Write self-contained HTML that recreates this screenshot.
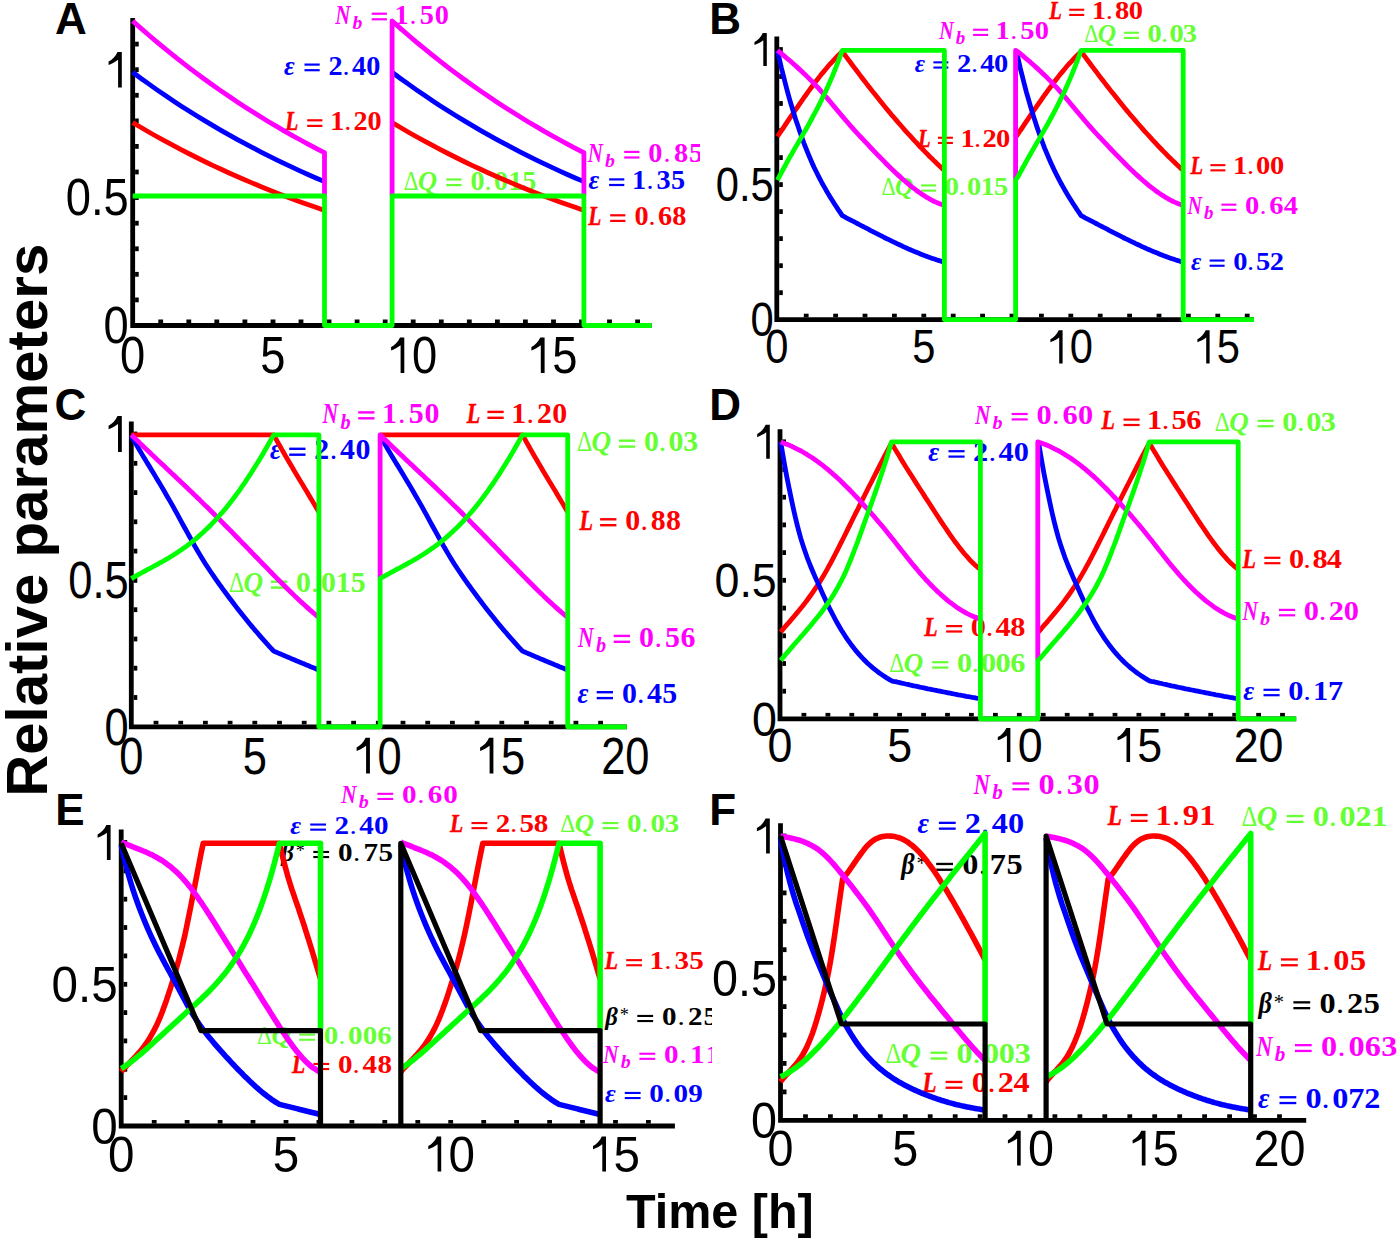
<!DOCTYPE html>
<html><head><meta charset="utf-8"><style>
html,body{margin:0;padding:0;background:#fff;}
svg{display:block;}

</style></head><body>
<svg width="1400" height="1241" viewBox="0 0 1400 1241">
<defs>
<clipPath id="clipA"><rect x="0" y="0" width="700" height="395"/></clipPath>
<clipPath id="clipE"><rect x="0" y="770" width="712" height="471"/></clipPath>
</defs>
<rect width="1400" height="1241" fill="#fff"/>
<g clip-path="url(#clipA)">
<g fill="#ff00ff"><text transform="translate(335.2,23.8) scale(0.755,1)" style="font-family:'Liberation Serif',serif;font-weight:bold;font-style:italic;font-size:27.7px">N</text><text transform="translate(352.4,28.9) scale(1.019,1)" style="font-family:'Liberation Serif',serif;font-weight:bold;font-style:italic;font-size:19.4px">b</text><rect x="371.7" y="12.6" width="15.2" height="2.2"/><rect x="371.7" y="18.2" width="15.2" height="2.2"/><text transform="translate(394.6,23.8) scale(1.020,1)" style="font-family:'Liberation Serif',serif;font-weight:bold;font-style:normal;font-size:27.7px">1</text><text transform="translate(409.6,23.8) scale(1.020,1)" style="font-family:'Liberation Serif',serif;font-weight:normal;font-style:normal;font-size:27.7px">.</text><text transform="translate(419.8,23.8) scale(1.020,1)" style="font-family:'Liberation Serif',serif;font-weight:bold;font-style:normal;font-size:27.7px">5</text><text transform="translate(434.7,23.8) scale(1.020,1)" style="font-family:'Liberation Serif',serif;font-weight:bold;font-style:normal;font-size:27.7px">0</text></g>
<g fill="#0000ff"><text transform="translate(284,74.6) scale(0.944,1)" style="font-family:'Liberation Serif',serif;font-weight:bold;font-style:italic;font-size:27.7px">ε</text><rect x="304.5" y="63.5" width="15.2" height="2.2"/><rect x="304.5" y="69.1" width="15.2" height="2.2"/><text transform="translate(328.5,74.6) scale(1.020,1)" style="font-family:'Liberation Serif',serif;font-weight:bold;font-style:normal;font-size:27.7px">2</text><text transform="translate(342.6,74.6) scale(1.020,1)" style="font-family:'Liberation Serif',serif;font-weight:normal;font-style:normal;font-size:27.7px">.</text><text transform="translate(352.1,74.6) scale(1.020,1)" style="font-family:'Liberation Serif',serif;font-weight:bold;font-style:normal;font-size:27.7px">4</text><text transform="translate(366.2,74.6) scale(1.020,1)" style="font-family:'Liberation Serif',serif;font-weight:bold;font-style:normal;font-size:27.7px">0</text></g>
<g fill="#ff0000"><text transform="translate(285.2,130.3) scale(0.772,1)" style="font-family:'Liberation Serif',serif;font-weight:bold;font-style:italic;font-size:27.7px" stroke="#ff0000" stroke-width="0.5">L</text><rect x="307.2" y="119.2" width="15.2" height="2.2"/><rect x="307.2" y="124.8" width="15.2" height="2.2"/><text transform="translate(330.2,130.3) scale(1.020,1)" style="font-family:'Liberation Serif',serif;font-weight:bold;font-style:normal;font-size:27.7px">1</text><text transform="translate(344.2,130.3) scale(1.020,1)" style="font-family:'Liberation Serif',serif;font-weight:normal;font-style:normal;font-size:27.7px">.</text><text transform="translate(353.5,130.3) scale(1.020,1)" style="font-family:'Liberation Serif',serif;font-weight:bold;font-style:normal;font-size:27.7px">2</text><text transform="translate(367.5,130.3) scale(1.020,1)" style="font-family:'Liberation Serif',serif;font-weight:bold;font-style:normal;font-size:27.7px">0</text></g>
<g fill="#ff00ff"><text transform="translate(587.7,161.9) scale(0.755,1)" style="font-family:'Liberation Serif',serif;font-weight:bold;font-style:italic;font-size:27.7px">N</text><text transform="translate(604.9,167.1) scale(1.019,1)" style="font-family:'Liberation Serif',serif;font-weight:bold;font-style:italic;font-size:19.4px">b</text><rect x="624.2" y="150.8" width="15.2" height="2.2"/><rect x="624.2" y="156.4" width="15.2" height="2.2"/><text transform="translate(648.3,161.9) scale(1.020,1)" style="font-family:'Liberation Serif',serif;font-weight:bold;font-style:normal;font-size:27.7px">0</text><text transform="translate(663.4,161.9) scale(1.020,1)" style="font-family:'Liberation Serif',serif;font-weight:normal;font-style:normal;font-size:27.7px">.</text><text transform="translate(673.9,161.9) scale(1.020,1)" style="font-family:'Liberation Serif',serif;font-weight:bold;font-style:normal;font-size:27.7px">8</text><text transform="translate(689,161.9) scale(1.020,1)" style="font-family:'Liberation Serif',serif;font-weight:bold;font-style:normal;font-size:27.7px">5</text></g>
<g fill="#0000ff"><text transform="translate(588.6,189.4) scale(0.944,1)" style="font-family:'Liberation Serif',serif;font-weight:bold;font-style:italic;font-size:27.7px">ε</text><rect x="609.1" y="178.3" width="15.2" height="2.2"/><rect x="609.1" y="183.9" width="15.2" height="2.2"/><text transform="translate(632,189.4) scale(1.020,1)" style="font-family:'Liberation Serif',serif;font-weight:bold;font-style:normal;font-size:27.7px">1</text><text transform="translate(646.6,189.4) scale(1.020,1)" style="font-family:'Liberation Serif',serif;font-weight:normal;font-style:normal;font-size:27.7px">.</text><text transform="translate(656.6,189.4) scale(1.020,1)" style="font-family:'Liberation Serif',serif;font-weight:bold;font-style:normal;font-size:27.7px">3</text><text transform="translate(671.1,189.4) scale(1.020,1)" style="font-family:'Liberation Serif',serif;font-weight:bold;font-style:normal;font-size:27.7px">5</text></g>
<g fill="#ff0000"><text transform="translate(588.2,225.3) scale(0.772,1)" style="font-family:'Liberation Serif',serif;font-weight:bold;font-style:italic;font-size:27.7px" stroke="#ff0000" stroke-width="0.5">L</text><rect x="610.2" y="214.2" width="15.2" height="2.2"/><rect x="610.2" y="219.8" width="15.2" height="2.2"/><text transform="translate(634.4,225.3) scale(1.020,1)" style="font-family:'Liberation Serif',serif;font-weight:bold;font-style:normal;font-size:27.7px">0</text><text transform="translate(648.6,225.3) scale(1.020,1)" style="font-family:'Liberation Serif',serif;font-weight:normal;font-style:normal;font-size:27.7px">.</text><text transform="translate(658.1,225.3) scale(1.020,1)" style="font-family:'Liberation Serif',serif;font-weight:bold;font-style:normal;font-size:27.7px">6</text><text transform="translate(672.3,225.3) scale(1.020,1)" style="font-family:'Liberation Serif',serif;font-weight:bold;font-style:normal;font-size:27.7px">8</text></g>
<g fill="#66ff33"><text transform="translate(403.7,189.5) scale(0.833,1)" style="font-family:'Liberation Serif',serif;font-weight:normal;font-style:normal;font-size:27.7px">Δ</text><text transform="translate(417.9,189.5) scale(0.956,1)" style="font-family:'Liberation Serif',serif;font-weight:bold;font-style:italic;font-size:27.7px">Q</text><rect x="446.3" y="178.4" width="15.2" height="2.2"/><rect x="446.3" y="184" width="15.2" height="2.2"/><text transform="translate(470.4,189.5) scale(1.020,1)" style="font-family:'Liberation Serif',serif;font-weight:bold;font-style:normal;font-size:27.7px">0</text><text transform="translate(484.6,189.5) scale(1.020,1)" style="font-family:'Liberation Serif',serif;font-weight:normal;font-style:normal;font-size:27.7px">.</text><text transform="translate(494.1,189.5) scale(1.020,1)" style="font-family:'Liberation Serif',serif;font-weight:bold;font-style:normal;font-size:27.7px">0</text><text transform="translate(508.2,189.5) scale(1.020,1)" style="font-family:'Liberation Serif',serif;font-weight:bold;font-style:normal;font-size:27.7px">1</text><text transform="translate(522.3,189.5) scale(1.020,1)" style="font-family:'Liberation Serif',serif;font-weight:bold;font-style:normal;font-size:27.7px">5</text></g>
<path d="M132.7,18 L132.7,325.5 L651.5,325.5" stroke="#000" stroke-width="4.8" fill="none" stroke-linejoin="miter"/>
<rect x="135.1" y="297.5" width="3.6" height="4.8" fill="#000"/>
<rect x="135.1" y="271.9" width="3.6" height="4.8" fill="#000"/>
<rect x="135.1" y="246.4" width="3.6" height="4.8" fill="#000"/>
<rect x="135.1" y="220.8" width="3.6" height="4.8" fill="#000"/>
<rect x="135.1" y="195.2" width="3.6" height="4.8" fill="#000"/>
<rect x="135.1" y="169.6" width="3.6" height="4.8" fill="#000"/>
<rect x="135.1" y="144" width="3.6" height="4.8" fill="#000"/>
<rect x="135.1" y="118.5" width="3.6" height="4.8" fill="#000"/>
<rect x="135.1" y="92.9" width="3.6" height="4.8" fill="#000"/>
<rect x="135.1" y="67.3" width="3.6" height="4.8" fill="#000"/>
<rect x="135.1" y="41.7" width="3.6" height="4.8" fill="#000"/>
<rect x="158.3" y="319.5" width="4.8" height="3.6" fill="#000"/>
<rect x="186.4" y="319.5" width="4.8" height="3.6" fill="#000"/>
<rect x="214.4" y="319.5" width="4.8" height="3.6" fill="#000"/>
<rect x="242.5" y="319.5" width="4.8" height="3.6" fill="#000"/>
<rect x="270.6" y="319.5" width="4.8" height="3.6" fill="#000"/>
<rect x="298.6" y="319.5" width="4.8" height="3.6" fill="#000"/>
<rect x="326.6" y="319.5" width="4.8" height="3.6" fill="#000"/>
<rect x="354.7" y="319.5" width="4.8" height="3.6" fill="#000"/>
<rect x="382.8" y="319.5" width="4.8" height="3.6" fill="#000"/>
<rect x="410.8" y="319.5" width="4.8" height="3.6" fill="#000"/>
<rect x="438.9" y="319.5" width="4.8" height="3.6" fill="#000"/>
<rect x="466.9" y="319.5" width="4.8" height="3.6" fill="#000"/>
<rect x="495" y="319.5" width="4.8" height="3.6" fill="#000"/>
<rect x="523" y="319.5" width="4.8" height="3.6" fill="#000"/>
<rect x="551.1" y="319.5" width="4.8" height="3.6" fill="#000"/>
<rect x="579.1" y="319.5" width="4.8" height="3.6" fill="#000"/>
<rect x="607.1" y="319.5" width="4.8" height="3.6" fill="#000"/>
<rect x="635.2" y="319.5" width="4.8" height="3.6" fill="#000"/>
<text x="0" y="0" transform="translate(132.7,373.1) scale(0.89,1)" text-anchor="middle" style="font-family:'Liberation Sans',sans-serif;font-size:50.9px">0</text>
<text x="0" y="0" transform="translate(272.9,373.1) scale(0.89,1)" text-anchor="middle" style="font-family:'Liberation Sans',sans-serif;font-size:50.9px">5</text>
<path d="M404.3,337.5 L404.3,373.1 L400.6,373.1 L400.6,345.3 C397.9,347.5 394.3,349.3 391.1,350.5 L391.1,347.1 C394.7,345.3 397.9,342.1 400,337.5Z" fill="#000"/>
<text transform="translate(411.9,373.1) scale(0.89,1)" style="font-family:'Liberation Sans',sans-serif;font-size:50.9px">0</text>
<path d="M544.6,337.5 L544.6,373.1 L540.8,373.1 L540.8,345.3 C538.1,347.5 534.6,349.3 531.4,350.5 L531.4,347.1 C534.9,345.3 538.1,342.1 540.3,337.5Z" fill="#000"/>
<text transform="translate(552.2,373.1) scale(0.89,1)" style="font-family:'Liberation Sans',sans-serif;font-size:50.9px">5</text>
<text x="0" y="0" transform="translate(128.8,343.3) scale(0.89,1)" text-anchor="end" style="font-family:'Liberation Sans',sans-serif;font-size:50.9px">0</text>
<text x="0" y="0" transform="translate(128.8,215.4) scale(0.89,1)" text-anchor="end" style="font-family:'Liberation Sans',sans-serif;font-size:50.9px">0.5</text>
<path d="M121.8,51.9 L121.8,87.5 L118.1,87.5 L118.1,59.7 C115.4,61.9 111.8,63.6 108.6,64.9 L108.6,61.5 C112.2,59.7 115.4,56.5 117.5,51.9Z" fill="#000"/>
<path d="M132.7,122.6 L140.7,127.3 L148.7,132 L156.7,136.5 L164.7,140.9 L172.7,145.2 L180.6,149.4 L188.6,153.5 L196.6,157.5 L204.6,161.5 L212.6,165.3 L220.6,169 L228.6,172.7 L236.6,176.2 L244.6,179.7 L252.6,183.1 L260.6,186.5 L268.6,189.7 L276.6,192.9 L284.5,196 L292.5,199 L300.5,201.9 L308.5,204.8 L316.5,207.6 L324.5,210.4" stroke="#ff0000" stroke-width="4.8" fill="none" stroke-linejoin="round" stroke-linecap="butt"/>
<path d="M132.7,72.3 L140.7,78.2 L148.7,83.9 L156.7,89.6 L164.7,95.1 L172.7,100.4 L180.6,105.7 L188.6,110.8 L196.6,115.8 L204.6,120.6 L212.6,125.4 L220.6,130.1 L228.6,134.6 L236.6,139.1 L244.6,143.4 L252.6,147.6 L260.6,151.8 L268.6,155.8 L276.6,159.8 L284.5,163.6 L292.5,167.4 L300.5,171.1 L308.5,174.7 L316.5,178.2 L324.5,181.6" stroke="#0000ff" stroke-width="4.8" fill="none" stroke-linejoin="round" stroke-linecap="butt"/>
<path d="M392.1,122.6 L400.1,127.3 L408.1,132 L416.1,136.5 L424.1,140.9 L432.1,145.2 L440,149.4 L448,153.5 L456,157.5 L464,161.5 L472,165.3 L480,169 L488,172.7 L496,176.2 L504,179.7 L512,183.1 L520,186.5 L528,189.7 L536,192.9 L543.9,196 L551.9,199 L559.9,201.9 L567.9,204.8 L575.9,207.6 L583.9,210.4" stroke="#ff0000" stroke-width="4.8" fill="none" stroke-linejoin="round" stroke-linecap="butt"/>
<path d="M392.1,72.3 L400.1,78.2 L408.1,83.9 L416.1,89.6 L424.1,95.1 L432.1,100.4 L440,105.7 L448,110.8 L456,115.8 L464,120.6 L472,125.4 L480,130.1 L488,134.6 L496,139.1 L504,143.4 L512,147.6 L520,151.8 L528,155.8 L536,159.8 L543.9,163.6 L551.9,167.4 L559.9,171.1 L567.9,174.7 L575.9,178.2 L583.9,181.6" stroke="#0000ff" stroke-width="4.8" fill="none" stroke-linejoin="round" stroke-linecap="butt"/>
<path d="M132.7,21 L140.7,28.1 L148.7,35 L156.7,41.8 L164.7,48.4 L172.7,54.9 L180.6,61.2 L188.6,67.4 L196.6,73.4 L204.6,79.3 L212.6,85 L220.6,90.6 L228.6,96.1 L236.6,101.5 L244.6,106.7 L252.6,111.8 L260.6,116.8 L268.6,121.7 L276.6,126.4 L284.5,131.1 L292.5,135.6 L300.5,140 L308.5,144.3 L316.5,148.6 L324.5,152.7 L324.5,196" stroke="#ff00ff" stroke-width="4.8" fill="none" stroke-linejoin="round" stroke-linecap="butt"/>
<path d="M392.1,196 L392.1,21 L392.1,21 L400.1,28.1 L408.1,35 L416.1,41.8 L424.1,48.4 L432.1,54.9 L440,61.2 L448,67.4 L456,73.4 L464,79.3 L472,85 L480,90.6 L488,96.1 L496,101.5 L504,106.7 L512,111.8 L520,116.8 L528,121.7 L536,126.4 L543.9,131.1 L551.9,135.6 L559.9,140 L567.9,144.3 L575.9,148.6 L583.9,152.7 L583.9,196" stroke="#ff00ff" stroke-width="4.8" fill="none" stroke-linejoin="round" stroke-linecap="butt"/>
<path d="M132.7,196 L324.5,196 L324.5,325.5 L392.1,325.5 L392.1,196 L583.9,196 L583.9,325.5 L651.5,325.5" stroke="#00ff00" stroke-width="4.8" fill="none" stroke-linejoin="round" stroke-linecap="butt"/>
<text x="55" y="34" style="font-family:Liberation Sans,sans-serif;font-weight:bold;font-size:44px">A</text>
</g>
<g fill="#ff00ff"><text transform="translate(939.2,39) scale(0.774,1)" style="font-family:'Liberation Serif',serif;font-weight:bold;font-style:italic;font-size:25.9px">N</text><text transform="translate(955.7,43.8) scale(1.045,1)" style="font-family:'Liberation Serif',serif;font-weight:bold;font-style:italic;font-size:18.1px">b</text><rect x="973.1" y="28.7" width="15" height="2.1"/><rect x="973.1" y="33.9" width="15" height="2.1"/><text transform="translate(995.6,39) scale(1.100,1)" style="font-family:'Liberation Serif',serif;font-weight:bold;font-style:normal;font-size:25.9px">1</text><text transform="translate(1010.3,39) scale(1.100,1)" style="font-family:'Liberation Serif',serif;font-weight:normal;font-style:normal;font-size:25.9px">.</text><text transform="translate(1020.2,39) scale(1.100,1)" style="font-family:'Liberation Serif',serif;font-weight:bold;font-style:normal;font-size:25.9px">5</text><text transform="translate(1034.8,39) scale(1.100,1)" style="font-family:'Liberation Serif',serif;font-weight:bold;font-style:normal;font-size:25.9px">0</text></g>
<g fill="#ff0000"><text transform="translate(1049.2,19) scale(0.792,1)" style="font-family:'Liberation Serif',serif;font-weight:bold;font-style:italic;font-size:25.9px" stroke="#ff0000" stroke-width="0.5">L</text><rect x="1069.2" y="8.7" width="15" height="2.1"/><rect x="1069.2" y="13.9" width="15" height="2.1"/><text transform="translate(1091.8,19) scale(1.100,1)" style="font-family:'Liberation Serif',serif;font-weight:bold;font-style:normal;font-size:25.9px">1</text><text transform="translate(1105.7,19) scale(1.100,1)" style="font-family:'Liberation Serif',serif;font-weight:normal;font-style:normal;font-size:25.9px">.</text><text transform="translate(1114.9,19) scale(1.100,1)" style="font-family:'Liberation Serif',serif;font-weight:bold;font-style:normal;font-size:25.9px">8</text><text transform="translate(1128.8,19) scale(1.100,1)" style="font-family:'Liberation Serif',serif;font-weight:bold;font-style:normal;font-size:25.9px">0</text></g>
<g fill="#66ff33"><text transform="translate(1084.2,42) scale(0.855,1)" style="font-family:'Liberation Serif',serif;font-weight:normal;font-style:normal;font-size:25.9px">Δ</text><text transform="translate(1097.8,42) scale(0.981,1)" style="font-family:'Liberation Serif',serif;font-weight:bold;font-style:italic;font-size:25.9px">Q</text><rect x="1123.9" y="31.7" width="15" height="2.1"/><rect x="1123.9" y="36.9" width="15" height="2.1"/><text transform="translate(1147.6,42) scale(1.100,1)" style="font-family:'Liberation Serif',serif;font-weight:bold;font-style:normal;font-size:25.9px">0</text><text transform="translate(1160.9,42) scale(1.100,1)" style="font-family:'Liberation Serif',serif;font-weight:normal;font-style:normal;font-size:25.9px">.</text><text transform="translate(1169.5,42) scale(1.100,1)" style="font-family:'Liberation Serif',serif;font-weight:bold;font-style:normal;font-size:25.9px">0</text><text transform="translate(1182.8,42) scale(1.100,1)" style="font-family:'Liberation Serif',serif;font-weight:bold;font-style:normal;font-size:25.9px">3</text></g>
<g fill="#0000ff"><text transform="translate(914.8,71.6) scale(0.968,1)" style="font-family:'Liberation Serif',serif;font-weight:bold;font-style:italic;font-size:25.9px">ε</text><rect x="933.4" y="61.3" width="15" height="2.1"/><rect x="933.4" y="66.5" width="15" height="2.1"/><text transform="translate(957,71.6) scale(1.100,1)" style="font-family:'Liberation Serif',serif;font-weight:bold;font-style:normal;font-size:25.9px">2</text><text transform="translate(970.9,71.6) scale(1.100,1)" style="font-family:'Liberation Serif',serif;font-weight:normal;font-style:normal;font-size:25.9px">.</text><text transform="translate(980.2,71.6) scale(1.100,1)" style="font-family:'Liberation Serif',serif;font-weight:bold;font-style:normal;font-size:25.9px">4</text><text transform="translate(994.1,71.6) scale(1.100,1)" style="font-family:'Liberation Serif',serif;font-weight:bold;font-style:normal;font-size:25.9px">0</text></g>
<g fill="#ff0000"><text transform="translate(917.9,147) scale(0.792,1)" style="font-family:'Liberation Serif',serif;font-weight:bold;font-style:italic;font-size:25.9px" stroke="#ff0000" stroke-width="0.5">L</text><rect x="937.9" y="136.7" width="15" height="2.1"/><rect x="937.9" y="141.9" width="15" height="2.1"/><text transform="translate(960.5,147) scale(1.100,1)" style="font-family:'Liberation Serif',serif;font-weight:bold;font-style:normal;font-size:25.9px">1</text><text transform="translate(973.9,147) scale(1.100,1)" style="font-family:'Liberation Serif',serif;font-weight:normal;font-style:normal;font-size:25.9px">.</text><text transform="translate(982.6,147) scale(1.100,1)" style="font-family:'Liberation Serif',serif;font-weight:bold;font-style:normal;font-size:25.9px">2</text><text transform="translate(996,147) scale(1.100,1)" style="font-family:'Liberation Serif',serif;font-weight:bold;font-style:normal;font-size:25.9px">0</text></g>
<g fill="#66ff33"><text transform="translate(881.4,194.7) scale(0.855,1)" style="font-family:'Liberation Serif',serif;font-weight:normal;font-style:normal;font-size:25.9px">Δ</text><text transform="translate(895,194.7) scale(0.981,1)" style="font-family:'Liberation Serif',serif;font-weight:bold;font-style:italic;font-size:25.9px">Q</text><rect x="921.1" y="184.4" width="15" height="2.1"/><rect x="921.1" y="189.6" width="15" height="2.1"/><text transform="translate(944.8,194.7) scale(1.100,1)" style="font-family:'Liberation Serif',serif;font-weight:bold;font-style:normal;font-size:25.9px">0</text><text transform="translate(958.4,194.7) scale(1.100,1)" style="font-family:'Liberation Serif',serif;font-weight:normal;font-style:normal;font-size:25.9px">.</text><text transform="translate(967.1,194.7) scale(1.100,1)" style="font-family:'Liberation Serif',serif;font-weight:bold;font-style:normal;font-size:25.9px">0</text><text transform="translate(980.6,194.7) scale(1.100,1)" style="font-family:'Liberation Serif',serif;font-weight:bold;font-style:normal;font-size:25.9px">1</text><text transform="translate(994.1,194.7) scale(1.100,1)" style="font-family:'Liberation Serif',serif;font-weight:bold;font-style:normal;font-size:25.9px">5</text></g>
<g fill="#ff0000"><text transform="translate(1190.4,174.4) scale(0.792,1)" style="font-family:'Liberation Serif',serif;font-weight:bold;font-style:italic;font-size:25.9px" stroke="#ff0000" stroke-width="0.5">L</text><rect x="1210.4" y="164.1" width="15" height="2.1"/><rect x="1210.4" y="169.3" width="15" height="2.1"/><text transform="translate(1233,174.4) scale(1.100,1)" style="font-family:'Liberation Serif',serif;font-weight:bold;font-style:normal;font-size:25.9px">1</text><text transform="translate(1246.9,174.4) scale(1.100,1)" style="font-family:'Liberation Serif',serif;font-weight:normal;font-style:normal;font-size:25.9px">.</text><text transform="translate(1256.1,174.4) scale(1.100,1)" style="font-family:'Liberation Serif',serif;font-weight:bold;font-style:normal;font-size:25.9px">0</text><text transform="translate(1270.1,174.4) scale(1.100,1)" style="font-family:'Liberation Serif',serif;font-weight:bold;font-style:normal;font-size:25.9px">0</text></g>
<g fill="#ff00ff"><text transform="translate(1187.5,213.9) scale(0.774,1)" style="font-family:'Liberation Serif',serif;font-weight:bold;font-style:italic;font-size:25.9px">N</text><text transform="translate(1204,218.7) scale(1.045,1)" style="font-family:'Liberation Serif',serif;font-weight:bold;font-style:italic;font-size:18.1px">b</text><rect x="1221.4" y="203.6" width="15" height="2.1"/><rect x="1221.4" y="208.8" width="15" height="2.1"/><text transform="translate(1245.1,213.9) scale(1.100,1)" style="font-family:'Liberation Serif',serif;font-weight:bold;font-style:normal;font-size:25.9px">0</text><text transform="translate(1259.6,213.9) scale(1.100,1)" style="font-family:'Liberation Serif',serif;font-weight:normal;font-style:normal;font-size:25.9px">.</text><text transform="translate(1269.2,213.9) scale(1.100,1)" style="font-family:'Liberation Serif',serif;font-weight:bold;font-style:normal;font-size:25.9px">6</text><text transform="translate(1283.7,213.9) scale(1.100,1)" style="font-family:'Liberation Serif',serif;font-weight:bold;font-style:normal;font-size:25.9px">4</text></g>
<g fill="#0000ff"><text transform="translate(1191,269.8) scale(0.968,1)" style="font-family:'Liberation Serif',serif;font-weight:bold;font-style:italic;font-size:25.9px">ε</text><rect x="1209.6" y="259.5" width="15" height="2.1"/><rect x="1209.6" y="264.7" width="15" height="2.1"/><text transform="translate(1233.3,269.8) scale(1.100,1)" style="font-family:'Liberation Serif',serif;font-weight:bold;font-style:normal;font-size:25.9px">0</text><text transform="translate(1247,269.8) scale(1.100,1)" style="font-family:'Liberation Serif',serif;font-weight:normal;font-style:normal;font-size:25.9px">.</text><text transform="translate(1256,269.8) scale(1.100,1)" style="font-family:'Liberation Serif',serif;font-weight:bold;font-style:normal;font-size:25.9px">5</text><text transform="translate(1269.7,269.8) scale(1.100,1)" style="font-family:'Liberation Serif',serif;font-weight:bold;font-style:normal;font-size:25.9px">2</text></g>
<path d="M776.8,36.5 L776.8,319.7 L1254,319.7" stroke="#000" stroke-width="4.8" fill="none" stroke-linejoin="miter"/>
<rect x="779.2" y="290.3" width="3.6" height="4.8" fill="#000"/>
<rect x="779.2" y="263.3" width="3.6" height="4.8" fill="#000"/>
<rect x="779.2" y="236.2" width="3.6" height="4.8" fill="#000"/>
<rect x="779.2" y="209.2" width="3.6" height="4.8" fill="#000"/>
<rect x="779.2" y="182.2" width="3.6" height="4.8" fill="#000"/>
<rect x="779.2" y="155.2" width="3.6" height="4.8" fill="#000"/>
<rect x="779.2" y="128.2" width="3.6" height="4.8" fill="#000"/>
<rect x="779.2" y="101.1" width="3.6" height="4.8" fill="#000"/>
<rect x="779.2" y="74.1" width="3.6" height="4.8" fill="#000"/>
<rect x="779.2" y="47.1" width="3.6" height="4.8" fill="#000"/>
<rect x="803.8" y="313.7" width="4.8" height="3.6" fill="#000"/>
<rect x="833.2" y="313.7" width="4.8" height="3.6" fill="#000"/>
<rect x="862.6" y="313.7" width="4.8" height="3.6" fill="#000"/>
<rect x="892" y="313.7" width="4.8" height="3.6" fill="#000"/>
<rect x="921.4" y="313.7" width="4.8" height="3.6" fill="#000"/>
<rect x="950.8" y="313.7" width="4.8" height="3.6" fill="#000"/>
<rect x="980.2" y="313.7" width="4.8" height="3.6" fill="#000"/>
<rect x="1009.6" y="313.7" width="4.8" height="3.6" fill="#000"/>
<rect x="1039" y="313.7" width="4.8" height="3.6" fill="#000"/>
<rect x="1068.4" y="313.7" width="4.8" height="3.6" fill="#000"/>
<rect x="1097.8" y="313.7" width="4.8" height="3.6" fill="#000"/>
<rect x="1127.2" y="313.7" width="4.8" height="3.6" fill="#000"/>
<rect x="1156.6" y="313.7" width="4.8" height="3.6" fill="#000"/>
<rect x="1186" y="313.7" width="4.8" height="3.6" fill="#000"/>
<rect x="1215.4" y="313.7" width="4.8" height="3.6" fill="#000"/>
<rect x="1244.8" y="313.7" width="4.8" height="3.6" fill="#000"/>
<text x="0" y="0" transform="translate(776.8,363.4) scale(0.88,1)" text-anchor="middle" style="font-family:'Liberation Sans',sans-serif;font-size:47.4px">0</text>
<text x="0" y="0" transform="translate(923.8,363.4) scale(0.88,1)" text-anchor="middle" style="font-family:'Liberation Sans',sans-serif;font-size:47.4px">5</text>
<path d="M1062.6,330.2 L1062.6,363.4 L1059.2,363.4 L1059.2,337.5 C1056.7,339.5 1053.3,341.1 1050.4,342.3 L1050.4,339.2 C1053.7,337.5 1056.7,334.5 1058.7,330.2Z" fill="#000"/>
<text transform="translate(1069.8,363.4) scale(0.88,1)" style="font-family:'Liberation Sans',sans-serif;font-size:47.4px">0</text>
<path d="M1209.6,330.2 L1209.6,363.4 L1206.2,363.4 L1206.2,337.5 C1203.7,339.5 1200.3,341.1 1197.4,342.3 L1197.4,339.2 C1200.7,337.5 1203.7,334.5 1205.7,330.2Z" fill="#000"/>
<text transform="translate(1216.8,363.4) scale(0.88,1)" style="font-family:'Liberation Sans',sans-serif;font-size:47.4px">5</text>
<text x="0" y="0" transform="translate(773.7,336.3) scale(0.88,1)" text-anchor="end" style="font-family:'Liberation Sans',sans-serif;font-size:47.4px">0</text>
<text x="0" y="0" transform="translate(773.7,201.2) scale(0.88,1)" text-anchor="end" style="font-family:'Liberation Sans',sans-serif;font-size:47.4px">0.5</text>
<path d="M766.8,32.9 L766.8,66.1 L763.3,66.1 L763.3,40.2 C760.8,42.2 757.5,43.9 754.5,45 L754.5,41.9 C757.8,40.2 760.8,37.2 762.8,32.9Z" fill="#000"/>
<path d="M777.5,136.5L779.5,133.5L781.5,130.5L783.6,127.5L785.6,124.4L787.6,121.4L789.6,118.4L791.7,115.4L793.7,112.5L795.7,109.5L797.8,106.6L799.8,103.7L801.8,100.8L803.8,97.9L805.9,95L807.9,92.2L809.9,89.4L811.9,86.7L813.9,84L816,81.3L818,78.7L820,76.1L822,73.6L824.1,71.1L826.1,68.7L828.1,66.3L830.1,64L832.2,61.8L834.2,59.6L836.2,57.5L838.2,55.4L840.3,53.4L842.3,51.5L844.3,54.2L846.3,56.9L848.3,59.6L850.3,62.3L852.3,65L854.3,67.6L856.3,70.3L858.3,72.9L860.3,75.6L862.3,78.2L864.3,80.8L866.3,83.4L868.3,86L870.3,88.5L872.3,91.1L874.3,93.6L876.3,96.1L878.3,98.6L880.3,101.1L882.3,103.6L884.3,106L886.3,108.5L888.3,110.9L890.3,113.3L892.3,115.7L894.4,118L896.4,120.4L898.4,122.7L900.4,125L902.4,127.3L904.4,129.6L906.4,131.8L908.4,134L910.4,136.2L912.4,138.4L914.4,140.6L916.4,142.7L918.4,144.9L920.4,147L922.4,149L924.4,151.1L926.4,153.1L928.4,155.2L930.4,157.2L932.4,159.1L934.4,161.1L936.4,163L938.4,164.9L940.4,166.8L942.4,168.7L944.4,170.5" stroke="#ff0000" stroke-width="4.8" fill="none" stroke-linejoin="round" stroke-linecap="butt"/>
<path d="M777.5,50.5L779.5,59.6L781.5,68.3L783.6,76.5L785.6,84.5L787.6,92.1L789.6,99.3L791.7,106.3L793.7,113L795.7,119.4L797.8,125.6L799.8,131.6L801.8,137.3L803.8,142.8L805.9,148.1L807.9,153.1L809.9,157.9L811.9,162.5L813.9,167L816,171.2L818,175.3L820,179.2L822,183L824.1,186.6L826.1,190.2L828.1,193.6L830.1,196.9L832.2,200.2L834.2,203.4L836.2,206.5L838.2,209.6L840.3,212.7L842.3,215.7L844.3,216.7L846.3,217.8L848.3,218.8L850.3,219.8L852.3,220.9L854.3,221.9L856.3,223L858.3,224L860.3,225.1L862.3,226.1L864.3,227.2L866.3,228.2L868.3,229.2L870.3,230.3L872.3,231.3L874.3,232.4L876.3,233.4L878.3,234.4L880.3,235.4L882.3,236.4L884.3,237.5L886.3,238.5L888.3,239.4L890.3,240.4L892.3,241.4L894.4,242.4L896.4,243.3L898.4,244.3L900.4,245.2L902.4,246.2L904.4,247.1L906.4,248L908.4,248.9L910.4,249.7L912.4,250.6L914.4,251.5L916.4,252.3L918.4,253.1L920.4,253.9L922.4,254.7L924.4,255.5L926.4,256.2L928.4,257L930.4,257.7L932.4,258.4L934.4,259.1L936.4,259.8L938.4,260.4L940.4,261L942.4,261.6L944.4,262.2" stroke="#0000ff" stroke-width="4.8" fill="none" stroke-linejoin="round" stroke-linecap="butt"/>
<path d="M1016.3,136.5L1018.3,133.5L1020.3,130.5L1022.4,127.5L1024.4,124.4L1026.4,121.4L1028.5,118.4L1030.5,115.4L1032.5,112.5L1034.5,109.5L1036.5,106.6L1038.6,103.7L1040.6,100.8L1042.6,97.9L1044.6,95L1046.7,92.2L1048.7,89.4L1050.7,86.7L1052.8,84L1054.8,81.3L1056.8,78.7L1058.8,76.1L1060.8,73.6L1062.9,71.1L1064.9,68.7L1066.9,66.3L1068.9,64L1071,61.8L1073,59.6L1075,57.5L1077,55.4L1079.1,53.4L1081.1,51.5L1083.1,54.2L1085.1,56.9L1087.1,59.6L1089.1,62.3L1091.1,65L1093.1,67.6L1095.1,70.3L1097.1,72.9L1099.1,75.6L1101.1,78.2L1103.1,80.8L1105.1,83.4L1107.1,86L1109.1,88.5L1111.1,91.1L1113.1,93.6L1115.1,96.1L1117.1,98.6L1119.1,101.1L1121.1,103.6L1123.1,106L1125.1,108.5L1127.1,110.9L1129.1,113.3L1131.1,115.7L1133.2,118L1135.2,120.4L1137.2,122.7L1139.2,125L1141.2,127.3L1143.2,129.6L1145.2,131.8L1147.2,134L1149.2,136.2L1151.2,138.4L1153.2,140.6L1155.2,142.7L1157.2,144.9L1159.2,147L1161.2,149L1163.2,151.1L1165.2,153.1L1167.2,155.2L1169.2,157.2L1171.2,159.1L1173.2,161.1L1175.2,163L1177.2,164.9L1179.2,166.8L1181.2,168.7L1183.2,170.5" stroke="#ff0000" stroke-width="4.8" fill="none" stroke-linejoin="round" stroke-linecap="butt"/>
<path d="M1016.3,50.5L1018.3,59.6L1020.3,68.3L1022.4,76.5L1024.4,84.5L1026.4,92.1L1028.5,99.3L1030.5,106.3L1032.5,113L1034.5,119.4L1036.5,125.6L1038.6,131.6L1040.6,137.3L1042.6,142.8L1044.6,148.1L1046.7,153.1L1048.7,157.9L1050.7,162.5L1052.8,167L1054.8,171.2L1056.8,175.3L1058.8,179.2L1060.8,183L1062.9,186.6L1064.9,190.2L1066.9,193.6L1068.9,196.9L1071,200.2L1073,203.4L1075,206.5L1077,209.6L1079.1,212.7L1081.1,215.7L1083.1,216.7L1085.1,217.8L1087.1,218.8L1089.1,219.8L1091.1,220.9L1093.1,221.9L1095.1,223L1097.1,224L1099.1,225.1L1101.1,226.1L1103.1,227.2L1105.1,228.2L1107.1,229.2L1109.1,230.3L1111.1,231.3L1113.1,232.4L1115.1,233.4L1117.1,234.4L1119.1,235.4L1121.1,236.4L1123.1,237.5L1125.1,238.5L1127.1,239.4L1129.1,240.4L1131.1,241.4L1133.2,242.4L1135.2,243.3L1137.2,244.3L1139.2,245.2L1141.2,246.2L1143.2,247.1L1145.2,248L1147.2,248.9L1149.2,249.7L1151.2,250.6L1153.2,251.5L1155.2,252.3L1157.2,253.1L1159.2,253.9L1161.2,254.7L1163.2,255.5L1165.2,256.2L1167.2,257L1169.2,257.7L1171.2,258.4L1173.2,259.1L1175.2,259.8L1177.2,260.4L1179.2,261L1181.2,261.6L1183.2,262.2" stroke="#0000ff" stroke-width="4.8" fill="none" stroke-linejoin="round" stroke-linecap="butt"/>
<path d="M777.5,50.3L779.5,52L781.5,53.7L783.5,55.3L785.5,57.1L787.6,58.8L789.6,60.5L791.6,62.2L793.6,64L795.6,65.8L797.6,67.6L799.6,69.4L801.6,71.3L803.6,73.2L805.7,75.1L807.7,77.1L809.7,79.1L811.7,81.1L813.7,83.2L815.7,85.3L817.7,87.4L819.7,89.6L821.7,91.9L823.7,94.2L825.8,96.5L827.8,98.9L829.8,101.3L831.8,103.7L833.8,106.1L835.8,108.5L837.8,110.9L839.8,113.3L841.8,115.7L843.9,118.1L845.9,120.5L847.9,122.8L849.9,125.1L851.9,127.4L853.9,129.6L855.9,131.8L857.9,134L859.9,136.2L862,138.3L864,140.5L866,142.6L868,144.7L870,146.9L872,149L874,151.1L876,153.2L878,155.3L880.1,157.3L882.1,159.4L884.1,161.4L886.1,163.5L888.1,165.5L890.1,167.4L892.1,169.4L894.1,171.3L896.1,173.2L898.2,175.1L900.2,176.9L902.2,178.7L904.2,180.5L906.2,182.2L908.2,183.9L910.2,185.6L912.2,187.2L914.2,188.7L916.2,190.2L918.3,191.7L920.3,193.1L922.3,194.5L924.3,195.8L926.3,197.1L928.3,198.2L930.3,199.4L932.3,200.5L934.3,201.5L936.4,202.4L938.4,203.3L940.4,204.1L942.4,204.8L944.4,205.5" stroke="#ff00ff" stroke-width="4.8" fill="none" stroke-linejoin="round" stroke-linecap="butt"/>
<path d="M1015.6,180.1L1015.6,50.3L1018.3,52L1020.3,53.7L1022.3,55.3L1024.3,57.1L1026.4,58.8L1028.4,60.5L1030.4,62.2L1032.4,64L1034.4,65.8L1036.4,67.6L1038.4,69.4L1040.4,71.3L1042.4,73.2L1044.5,75.1L1046.5,77.1L1048.5,79.1L1050.5,81.1L1052.5,83.2L1054.5,85.3L1056.5,87.4L1058.5,89.6L1060.5,91.9L1062.5,94.2L1064.6,96.5L1066.6,98.9L1068.6,101.3L1070.6,103.7L1072.6,106.1L1074.6,108.5L1076.6,110.9L1078.6,113.3L1080.6,115.7L1082.7,118.1L1084.7,120.5L1086.7,122.8L1088.7,125.1L1090.7,127.4L1092.7,129.6L1094.7,131.8L1096.7,134L1098.7,136.2L1100.8,138.3L1102.8,140.5L1104.8,142.6L1106.8,144.7L1108.8,146.9L1110.8,149L1112.8,151.1L1114.8,153.2L1116.8,155.3L1118.9,157.3L1120.9,159.4L1122.9,161.4L1124.9,163.5L1126.9,165.5L1128.9,167.4L1130.9,169.4L1132.9,171.3L1134.9,173.2L1137,175.1L1139,176.9L1141,178.7L1143,180.5L1145,182.2L1147,183.9L1149,185.6L1151,187.2L1153,188.7L1155,190.2L1157.1,191.7L1159.1,193.1L1161.1,194.5L1163.1,195.8L1165.1,197.1L1167.1,198.2L1169.1,199.4L1171.1,200.5L1173.1,201.5L1175.2,202.4L1177.2,203.3L1179.2,204.1L1181.2,204.8L1183.2,205.5" stroke="#ff00ff" stroke-width="4.8" fill="none" stroke-linejoin="round" stroke-linecap="butt"/>
<path d="M777.5,180.1L779.5,176.1L781.5,172.3L783.6,168.5L785.6,164.8L787.6,161.1L789.6,157.5L791.7,154L793.7,150.4L795.7,146.9L797.8,143.4L799.8,139.9L801.8,136.4L803.8,132.9L805.9,129.4L807.9,125.8L809.9,122.2L811.9,118.5L813.9,114.7L816,110.9L818,107L820,103L822,98.9L824.1,94.7L826.1,90.4L828.1,86L830.1,81.4L832.2,76.6L834.2,71.7L836.2,66.6L838.2,61.4L840.3,55.9L842.3,50.3L944.4,50.3L944.4,319.7L1015.6,319.7L1015.6,180.1L1018.3,176.1L1020.3,172.3L1022.4,168.5L1024.4,164.8L1026.4,161.1L1028.5,157.5L1030.5,154L1032.5,150.4L1034.5,146.9L1036.5,143.4L1038.6,139.9L1040.6,136.4L1042.6,132.9L1044.6,129.4L1046.7,125.8L1048.7,122.2L1050.7,118.5L1052.8,114.7L1054.8,110.9L1056.8,107L1058.8,103L1060.8,98.9L1062.9,94.7L1064.9,90.4L1066.9,86L1068.9,81.4L1071,76.6L1073,71.7L1075,66.6L1077,61.4L1079.1,55.9L1081.1,50.3L1183.2,50.3L1183.2,319.7L1254,319.7" stroke="#00ff00" stroke-width="4.8" fill="none" stroke-linejoin="round" stroke-linecap="butt"/>
<text x="709.3" y="34" style="font-family:Liberation Sans,sans-serif;font-weight:bold;font-size:44px">B</text>
<g fill="#ff00ff"><text transform="translate(322.6,423) scale(0.734,1)" style="font-family:'Liberation Serif',serif;font-weight:bold;font-style:italic;font-size:29.3px">N</text><text transform="translate(340.4,428.5) scale(0.991,1)" style="font-family:'Liberation Serif',serif;font-weight:bold;font-style:italic;font-size:20.5px">b</text><rect x="358.2" y="411.2" width="16.3" height="2.4"/><rect x="358.2" y="417.1" width="16.3" height="2.4"/><text transform="translate(382.1,423) scale(1.020,1)" style="font-family:'Liberation Serif',serif;font-weight:bold;font-style:normal;font-size:29.3px">1</text><text transform="translate(397.9,423) scale(1.020,1)" style="font-family:'Liberation Serif',serif;font-weight:normal;font-style:normal;font-size:29.3px">.</text><text transform="translate(408.7,423) scale(1.020,1)" style="font-family:'Liberation Serif',serif;font-weight:bold;font-style:normal;font-size:29.3px">5</text><text transform="translate(424.5,423) scale(1.020,1)" style="font-family:'Liberation Serif',serif;font-weight:bold;font-style:normal;font-size:29.3px">0</text></g>
<g fill="#ff0000"><text transform="translate(466.7,422.5) scale(0.751,1)" style="font-family:'Liberation Serif',serif;font-weight:bold;font-style:italic;font-size:29.3px" stroke="#ff0000" stroke-width="0.5">L</text><rect x="487.4" y="410.7" width="16.3" height="2.4"/><rect x="487.4" y="416.6" width="16.3" height="2.4"/><text transform="translate(511.3,422.5) scale(1.020,1)" style="font-family:'Liberation Serif',serif;font-weight:bold;font-style:normal;font-size:29.3px">1</text><text transform="translate(526.6,422.5) scale(1.020,1)" style="font-family:'Liberation Serif',serif;font-weight:normal;font-style:normal;font-size:29.3px">.</text><text transform="translate(537,422.5) scale(1.020,1)" style="font-family:'Liberation Serif',serif;font-weight:bold;font-style:normal;font-size:29.3px">2</text><text transform="translate(552.3,422.5) scale(1.020,1)" style="font-family:'Liberation Serif',serif;font-weight:bold;font-style:normal;font-size:29.3px">0</text></g>
<g fill="#66ff33"><text transform="translate(577,451.3) scale(0.811,1)" style="font-family:'Liberation Serif',serif;font-weight:normal;font-style:normal;font-size:29.3px">Δ</text><text transform="translate(591.6,451.3) scale(0.930,1)" style="font-family:'Liberation Serif',serif;font-weight:bold;font-style:italic;font-size:29.3px">Q</text><rect x="618.9" y="439.5" width="16.3" height="2.4"/><rect x="618.9" y="445.4" width="16.3" height="2.4"/><text transform="translate(644.1,451.3) scale(1.020,1)" style="font-family:'Liberation Serif',serif;font-weight:bold;font-style:normal;font-size:29.3px">0</text><text transform="translate(658.8,451.3) scale(1.020,1)" style="font-family:'Liberation Serif',serif;font-weight:normal;font-style:normal;font-size:29.3px">.</text><text transform="translate(668.5,451.3) scale(1.020,1)" style="font-family:'Liberation Serif',serif;font-weight:bold;font-style:normal;font-size:29.3px">0</text><text transform="translate(683.2,451.3) scale(1.020,1)" style="font-family:'Liberation Serif',serif;font-weight:bold;font-style:normal;font-size:29.3px">3</text></g>
<g fill="#0000ff"><text transform="translate(270.1,459.4) scale(0.918,1)" style="font-family:'Liberation Serif',serif;font-weight:bold;font-style:italic;font-size:29.3px">ε</text><rect x="289.2" y="447.6" width="16.3" height="2.4"/><rect x="289.2" y="453.5" width="16.3" height="2.4"/><text transform="translate(314.2,459.4) scale(1.020,1)" style="font-family:'Liberation Serif',serif;font-weight:bold;font-style:normal;font-size:29.3px">2</text><text transform="translate(329.7,459.4) scale(1.020,1)" style="font-family:'Liberation Serif',serif;font-weight:normal;font-style:normal;font-size:29.3px">.</text><text transform="translate(340.1,459.4) scale(1.020,1)" style="font-family:'Liberation Serif',serif;font-weight:bold;font-style:normal;font-size:29.3px">4</text><text transform="translate(355.6,459.4) scale(1.020,1)" style="font-family:'Liberation Serif',serif;font-weight:bold;font-style:normal;font-size:29.3px">0</text></g>
<g fill="#66ff33"><text transform="translate(229,592.3) scale(0.811,1)" style="font-family:'Liberation Serif',serif;font-weight:normal;font-style:normal;font-size:29.3px">Δ</text><text transform="translate(243.6,592.3) scale(0.930,1)" style="font-family:'Liberation Serif',serif;font-weight:bold;font-style:italic;font-size:29.3px">Q</text><rect x="270.9" y="580.5" width="16.3" height="2.4"/><rect x="270.9" y="586.4" width="16.3" height="2.4"/><text transform="translate(296.1,592.3) scale(1.020,1)" style="font-family:'Liberation Serif',serif;font-weight:bold;font-style:normal;font-size:29.3px">0</text><text transform="translate(311,592.3) scale(1.020,1)" style="font-family:'Liberation Serif',serif;font-weight:normal;font-style:normal;font-size:29.3px">.</text><text transform="translate(320.9,592.3) scale(1.020,1)" style="font-family:'Liberation Serif',serif;font-weight:bold;font-style:normal;font-size:29.3px">0</text><text transform="translate(335.8,592.3) scale(1.020,1)" style="font-family:'Liberation Serif',serif;font-weight:bold;font-style:normal;font-size:29.3px">1</text><text transform="translate(350.7,592.3) scale(1.020,1)" style="font-family:'Liberation Serif',serif;font-weight:bold;font-style:normal;font-size:29.3px">5</text></g>
<g fill="#ff0000"><text transform="translate(579.4,529.9) scale(0.751,1)" style="font-family:'Liberation Serif',serif;font-weight:bold;font-style:italic;font-size:29.3px" stroke="#ff0000" stroke-width="0.5">L</text><rect x="600.1" y="518.1" width="16.3" height="2.4"/><rect x="600.1" y="524" width="16.3" height="2.4"/><text transform="translate(625.3,529.9) scale(1.020,1)" style="font-family:'Liberation Serif',serif;font-weight:bold;font-style:normal;font-size:29.3px">0</text><text transform="translate(640.5,529.9) scale(1.020,1)" style="font-family:'Liberation Serif',serif;font-weight:normal;font-style:normal;font-size:29.3px">.</text><text transform="translate(650.8,529.9) scale(1.020,1)" style="font-family:'Liberation Serif',serif;font-weight:bold;font-style:normal;font-size:29.3px">8</text><text transform="translate(666,529.9) scale(1.020,1)" style="font-family:'Liberation Serif',serif;font-weight:bold;font-style:normal;font-size:29.3px">8</text></g>
<g fill="#ff00ff"><text transform="translate(578.1,646.5) scale(0.734,1)" style="font-family:'Liberation Serif',serif;font-weight:bold;font-style:italic;font-size:29.3px">N</text><text transform="translate(595.9,652) scale(0.991,1)" style="font-family:'Liberation Serif',serif;font-weight:bold;font-style:italic;font-size:20.5px">b</text><rect x="613.7" y="634.7" width="16.3" height="2.4"/><rect x="613.7" y="640.6" width="16.3" height="2.4"/><text transform="translate(638.9,646.5) scale(1.020,1)" style="font-family:'Liberation Serif',serif;font-weight:bold;font-style:normal;font-size:29.3px">0</text><text transform="translate(654.4,646.5) scale(1.020,1)" style="font-family:'Liberation Serif',serif;font-weight:normal;font-style:normal;font-size:29.3px">.</text><text transform="translate(664.9,646.5) scale(1.020,1)" style="font-family:'Liberation Serif',serif;font-weight:bold;font-style:normal;font-size:29.3px">5</text><text transform="translate(680.4,646.5) scale(1.020,1)" style="font-family:'Liberation Serif',serif;font-weight:bold;font-style:normal;font-size:29.3px">6</text></g>
<g fill="#0000ff"><text transform="translate(577.6,702.8) scale(0.918,1)" style="font-family:'Liberation Serif',serif;font-weight:bold;font-style:italic;font-size:29.3px">ε</text><rect x="596.7" y="691" width="16.3" height="2.4"/><rect x="596.7" y="696.9" width="16.3" height="2.4"/><text transform="translate(621.9,702.8) scale(1.020,1)" style="font-family:'Liberation Serif',serif;font-weight:bold;font-style:normal;font-size:29.3px">0</text><text transform="translate(637,702.8) scale(1.020,1)" style="font-family:'Liberation Serif',serif;font-weight:normal;font-style:normal;font-size:29.3px">.</text><text transform="translate(647.1,702.8) scale(1.020,1)" style="font-family:'Liberation Serif',serif;font-weight:bold;font-style:normal;font-size:29.3px">4</text><text transform="translate(662.2,702.8) scale(1.020,1)" style="font-family:'Liberation Serif',serif;font-weight:bold;font-style:normal;font-size:29.3px">5</text></g>
<path d="M131.3,421.4 L131.3,726.8 L626.8,726.8" stroke="#000" stroke-width="4.8" fill="none" stroke-linejoin="miter"/>
<rect x="133.7" y="695.1" width="3.6" height="4.8" fill="#000"/>
<rect x="133.7" y="665.8" width="3.6" height="4.8" fill="#000"/>
<rect x="133.7" y="636.6" width="3.6" height="4.8" fill="#000"/>
<rect x="133.7" y="607.3" width="3.6" height="4.8" fill="#000"/>
<rect x="133.7" y="578" width="3.6" height="4.8" fill="#000"/>
<rect x="133.7" y="548.7" width="3.6" height="4.8" fill="#000"/>
<rect x="133.7" y="519.4" width="3.6" height="4.8" fill="#000"/>
<rect x="133.7" y="490.2" width="3.6" height="4.8" fill="#000"/>
<rect x="133.7" y="460.9" width="3.6" height="4.8" fill="#000"/>
<rect x="133.7" y="431.6" width="3.6" height="4.8" fill="#000"/>
<rect x="153.6" y="720.8" width="4.8" height="3.6" fill="#000"/>
<rect x="178.3" y="720.8" width="4.8" height="3.6" fill="#000"/>
<rect x="203" y="720.8" width="4.8" height="3.6" fill="#000"/>
<rect x="227.7" y="720.8" width="4.8" height="3.6" fill="#000"/>
<rect x="252.4" y="720.8" width="4.8" height="3.6" fill="#000"/>
<rect x="277.1" y="720.8" width="4.8" height="3.6" fill="#000"/>
<rect x="301.8" y="720.8" width="4.8" height="3.6" fill="#000"/>
<rect x="326.5" y="720.8" width="4.8" height="3.6" fill="#000"/>
<rect x="351.2" y="720.8" width="4.8" height="3.6" fill="#000"/>
<rect x="375.9" y="720.8" width="4.8" height="3.6" fill="#000"/>
<rect x="400.6" y="720.8" width="4.8" height="3.6" fill="#000"/>
<rect x="425.3" y="720.8" width="4.8" height="3.6" fill="#000"/>
<rect x="450" y="720.8" width="4.8" height="3.6" fill="#000"/>
<rect x="474.7" y="720.8" width="4.8" height="3.6" fill="#000"/>
<rect x="499.4" y="720.8" width="4.8" height="3.6" fill="#000"/>
<rect x="524.1" y="720.8" width="4.8" height="3.6" fill="#000"/>
<rect x="548.8" y="720.8" width="4.8" height="3.6" fill="#000"/>
<rect x="573.5" y="720.8" width="4.8" height="3.6" fill="#000"/>
<rect x="598.2" y="720.8" width="4.8" height="3.6" fill="#000"/>
<text x="0" y="0" transform="translate(131.3,773.6) scale(0.85,1)" text-anchor="middle" style="font-family:'Liberation Sans',sans-serif;font-size:51.1px">0</text>
<text x="0" y="0" transform="translate(254.8,773.6) scale(0.85,1)" text-anchor="middle" style="font-family:'Liberation Sans',sans-serif;font-size:51.1px">5</text>
<path d="M369.9,737.8 L369.9,773.6 L366.1,773.6 L366.1,745.7 C363.4,747.8 359.8,749.6 356.6,750.9 L356.6,747.5 C360.2,745.7 363.4,742.5 365.6,737.8Z" fill="#000"/>
<text transform="translate(377.6,773.6) scale(0.85,1)" style="font-family:'Liberation Sans',sans-serif;font-size:51.1px">0</text>
<path d="M493.4,737.8 L493.4,773.6 L489.6,773.6 L489.6,745.7 C486.9,747.8 483.3,749.6 480.1,750.9 L480.1,747.5 C483.7,745.7 486.9,742.5 489.1,737.8Z" fill="#000"/>
<text transform="translate(501.1,773.6) scale(0.85,1)" style="font-family:'Liberation Sans',sans-serif;font-size:51.1px">5</text>
<text x="0" y="0" transform="translate(625.3,773.6) scale(0.85,1)" text-anchor="middle" style="font-family:'Liberation Sans',sans-serif;font-size:51.1px">20</text>
<text x="0" y="0" transform="translate(128.7,744.7) scale(0.85,1)" text-anchor="end" style="font-family:'Liberation Sans',sans-serif;font-size:51.1px">0</text>
<text x="0" y="0" transform="translate(128.7,598.3) scale(0.85,1)" text-anchor="end" style="font-family:'Liberation Sans',sans-serif;font-size:51.1px">0.5</text>
<path d="M121.8,416.1 L121.8,451.9 L118,451.9 L118,424 C115.4,426.1 111.8,427.9 108.6,429.2 L108.6,425.8 C112.1,424 115.4,420.8 117.5,416.1Z" fill="#000"/>
<path d="M131.3,434.8L273.7,434.8L275.8,438.6L277.8,442.3L279.9,446L281.9,449.6L284,453.2L286,456.8L288.1,460.3L290.1,463.8L292.2,467.3L294.2,470.8L296.3,474.2L298.4,477.7L300.4,481.1L302.5,484.5L304.5,487.9L306.6,491.3L308.6,494.7L310.7,498.2L312.7,501.6L314.8,505L316.8,508.5L318.9,512" stroke="#ff0000" stroke-width="4.8" fill="none" stroke-linejoin="round" stroke-linecap="butt"/>
<path d="M131.3,436L133.3,439.5L135.3,442.9L137.3,446.3L139.3,449.7L141.3,453.1L143.3,456.4L145.3,459.7L147.3,463.1L149.4,466.4L151.4,469.7L153.4,473L155.4,476.4L157.4,479.7L159.4,483L161.4,486.4L163.4,489.8L165.4,493.2L167.4,496.7L169.4,500.1L171.4,503.6L173.4,507.2L175.4,510.8L177.4,514.4L179.4,518.1L181.4,521.8L183.4,525.5L185.5,529.2L187.5,532.9L189.5,536.5L191.5,540.2L193.5,543.7L195.5,547.3L197.5,550.7L199.5,554.1L201.5,557.4L203.5,560.7L205.5,563.9L207.5,567L209.5,570L211.5,573L213.5,575.9L215.5,578.8L217.5,581.7L219.5,584.5L221.6,587.3L223.6,590.1L225.6,592.8L227.6,595.5L229.6,598.2L231.6,600.8L233.6,603.5L235.6,606.1L237.6,608.7L239.6,611.2L241.6,613.8L243.6,616.3L245.6,618.8L247.6,621.3L249.6,623.7L251.6,626.1L253.6,628.5L255.6,630.9L257.7,633.2L259.7,635.6L261.7,637.9L263.7,640.1L265.7,642.4L267.7,644.6L269.7,646.8L271.7,649L273.7,651.1L275.8,652L277.8,652.9L279.9,653.8L281.9,654.6L284,655.5L286,656.4L288.1,657.3L290.1,658.1L292.2,659L294.2,659.8L296.3,660.7L298.4,661.6L300.4,662.4L302.5,663.3L304.5,664.1L306.6,665L308.6,665.8L310.7,666.7L312.7,667.5L314.8,668.3L316.8,669.2L318.9,670" stroke="#0000ff" stroke-width="4.8" fill="none" stroke-linejoin="round" stroke-linecap="butt"/>
<path d="M380.1,434.8L522.5,434.8L524.6,438.6L526.6,442.3L528.7,446L530.7,449.6L532.8,453.2L534.8,456.8L536.9,460.3L538.9,463.8L541,467.3L543,470.8L545.1,474.2L547.2,477.7L549.2,481.1L551.3,484.5L553.3,487.9L555.4,491.3L557.4,494.7L559.5,498.2L561.5,501.6L563.6,505L565.6,508.5L567.7,512" stroke="#ff0000" stroke-width="4.8" fill="none" stroke-linejoin="round" stroke-linecap="butt"/>
<path d="M380.1,436L382.1,439.5L384.1,442.9L386.1,446.3L388.1,449.7L390.1,453.1L392.1,456.4L394.1,459.7L396.1,463.1L398.2,466.4L400.2,469.7L402.2,473L404.2,476.4L406.2,479.7L408.2,483L410.2,486.4L412.2,489.8L414.2,493.2L416.2,496.7L418.2,500.1L420.2,503.6L422.2,507.2L424.2,510.8L426.2,514.4L428.2,518.1L430.2,521.8L432.2,525.5L434.3,529.2L436.3,532.9L438.3,536.5L440.3,540.2L442.3,543.7L444.3,547.3L446.3,550.7L448.3,554.1L450.3,557.4L452.3,560.7L454.3,563.9L456.3,567L458.3,570L460.3,573L462.3,575.9L464.3,578.8L466.3,581.7L468.3,584.5L470.4,587.3L472.4,590.1L474.4,592.8L476.4,595.5L478.4,598.2L480.4,600.8L482.4,603.5L484.4,606.1L486.4,608.7L488.4,611.2L490.4,613.8L492.4,616.3L494.4,618.8L496.4,621.3L498.4,623.7L500.4,626.1L502.4,628.5L504.4,630.9L506.5,633.2L508.5,635.6L510.5,637.9L512.5,640.1L514.5,642.4L516.5,644.6L518.5,646.8L520.5,649L522.5,651.1L524.6,652L526.6,652.9L528.7,653.8L530.7,654.6L532.8,655.5L534.8,656.4L536.9,657.3L538.9,658.1L541,659L543,659.8L545.1,660.7L547.2,661.6L549.2,662.4L551.3,663.3L553.3,664.1L555.4,665L557.4,665.8L559.5,666.7L561.5,667.5L563.6,668.3L565.6,669.2L567.7,670" stroke="#0000ff" stroke-width="4.8" fill="none" stroke-linejoin="round" stroke-linecap="butt"/>
<path d="M131.3,434.8L133.3,436.8L135.3,438.7L137.4,440.7L139.4,442.6L141.4,444.6L143.4,446.5L145.4,448.4L147.4,450.3L149.5,452.3L151.5,454.2L153.5,456.1L155.5,458L157.5,459.9L159.5,461.8L161.6,463.7L163.6,465.6L165.6,467.5L167.6,469.4L169.6,471.3L171.6,473.2L173.7,475.1L175.7,477L177.7,478.9L179.7,480.8L181.7,482.7L183.7,484.6L185.8,486.5L187.8,488.5L189.8,490.4L191.8,492.3L193.8,494.3L195.9,496.2L197.9,498.2L199.9,500.1L201.9,502.1L203.9,504.1L205.9,506.1L208,508.1L210,510L212,512L214,514L216,516.1L218,518.1L220.1,520.1L222.1,522.1L224.1,524.2L226.1,526.2L228.1,528.2L230.1,530.3L232.2,532.3L234.2,534.4L236.2,536.5L238.2,538.5L240.2,540.6L242.2,542.7L244.3,544.8L246.3,546.8L248.3,548.9L250.3,551L252.3,553.1L254.3,555.2L256.4,557.3L258.4,559.3L260.4,561.4L262.4,563.5L264.4,565.6L266.5,567.6L268.5,569.7L270.5,571.8L272.5,573.8L274.5,575.9L276.5,577.9L278.6,580L280.6,582L282.6,584L284.6,586L286.6,588L288.6,590L290.7,592L292.7,593.9L294.7,595.9L296.7,597.8L298.7,599.7L300.7,601.6L302.8,603.4L304.8,605.3L306.8,607.1L308.8,608.9L310.8,610.7L312.8,612.4L314.9,614.1L316.9,615.8L318.9,617.5" stroke="#ff00ff" stroke-width="4.8" fill="none" stroke-linejoin="round" stroke-linecap="butt"/>
<path d="M380.1,578.6L380.1,434.8L382.1,436.8L384.1,438.7L386.2,440.7L388.2,442.6L390.2,444.6L392.2,446.5L394.2,448.4L396.2,450.3L398.3,452.3L400.3,454.2L402.3,456.1L404.3,458L406.3,459.9L408.3,461.8L410.4,463.7L412.4,465.6L414.4,467.5L416.4,469.4L418.4,471.3L420.4,473.2L422.5,475.1L424.5,477L426.5,478.9L428.5,480.8L430.5,482.7L432.5,484.6L434.6,486.5L436.6,488.5L438.6,490.4L440.6,492.3L442.6,494.3L444.7,496.2L446.7,498.2L448.7,500.1L450.7,502.1L452.7,504.1L454.7,506.1L456.8,508.1L458.8,510L460.8,512L462.8,514L464.8,516.1L466.8,518.1L468.9,520.1L470.9,522.1L472.9,524.2L474.9,526.2L476.9,528.2L478.9,530.3L481,532.3L483,534.4L485,536.5L487,538.5L489,540.6L491,542.7L493.1,544.8L495.1,546.8L497.1,548.9L499.1,551L501.1,553.1L503.1,555.2L505.2,557.3L507.2,559.3L509.2,561.4L511.2,563.5L513.2,565.6L515.3,567.6L517.3,569.7L519.3,571.8L521.3,573.8L523.3,575.9L525.3,577.9L527.4,580L529.4,582L531.4,584L533.4,586L535.4,588L537.4,590L539.5,592L541.5,593.9L543.5,595.9L545.5,597.8L547.5,599.7L549.5,601.6L551.6,603.4L553.6,605.3L555.6,607.1L557.6,608.9L559.6,610.7L561.6,612.4L563.7,614.1L565.7,615.8L567.7,617.5" stroke="#ff00ff" stroke-width="4.8" fill="none" stroke-linejoin="round" stroke-linecap="butt"/>
<path d="M131.3,578.6L133.3,577.4L135.3,576.3L137.3,575.2L139.3,574.1L141.3,573L143.3,571.9L145.3,570.8L147.3,569.7L149.4,568.6L151.4,567.6L153.4,566.5L155.4,565.4L157.4,564.3L159.4,563.2L161.4,562.1L163.4,561L165.4,559.8L167.4,558.7L169.4,557.5L171.4,556.2L173.4,555L175.4,553.7L177.4,552.4L179.4,551.1L181.4,549.7L183.4,548.3L185.5,546.9L187.5,545.4L189.5,543.9L191.5,542.3L193.5,540.7L195.5,539.1L197.5,537.4L199.5,535.6L201.5,533.8L203.5,532L205.5,530.1L207.5,528.2L209.5,526.2L211.5,524.2L213.5,522.1L215.5,520L217.5,517.8L219.5,515.5L221.6,513.2L223.6,510.9L225.6,508.5L227.6,506L229.6,503.5L231.6,500.9L233.6,498.3L235.6,495.6L237.6,492.8L239.6,490.1L241.6,487.2L243.6,484.3L245.6,481.4L247.6,478.3L249.6,475.3L251.6,472.2L253.6,469L255.6,465.8L257.7,462.5L259.7,459.2L261.7,455.9L263.7,452.5L265.7,449L267.7,445.5L269.7,442L271.7,438.4L273.7,434.8L318.9,434.8L318.9,726.8L380.1,726.8L380.1,578.6L382.1,577.4L384.1,576.3L386.1,575.2L388.1,574.1L390.1,573L392.1,571.9L394.1,570.8L396.1,569.7L398.2,568.6L400.2,567.6L402.2,566.5L404.2,565.4L406.2,564.3L408.2,563.2L410.2,562.1L412.2,561L414.2,559.8L416.2,558.7L418.2,557.5L420.2,556.2L422.2,555L424.2,553.7L426.2,552.4L428.2,551.1L430.2,549.7L432.2,548.3L434.3,546.9L436.3,545.4L438.3,543.9L440.3,542.3L442.3,540.7L444.3,539.1L446.3,537.4L448.3,535.6L450.3,533.8L452.3,532L454.3,530.1L456.3,528.2L458.3,526.2L460.3,524.2L462.3,522.1L464.3,520L466.3,517.8L468.3,515.5L470.4,513.2L472.4,510.9L474.4,508.5L476.4,506L478.4,503.5L480.4,500.9L482.4,498.3L484.4,495.6L486.4,492.8L488.4,490.1L490.4,487.2L492.4,484.3L494.4,481.4L496.4,478.3L498.4,475.3L500.4,472.2L502.4,469L504.4,465.8L506.5,462.5L508.5,459.2L510.5,455.9L512.5,452.5L514.5,449L516.5,445.5L518.5,442L520.5,438.4L522.5,434.8L567.7,434.8L567.7,726.8L626.8,726.8" stroke="#00ff00" stroke-width="4.8" fill="none" stroke-linejoin="round" stroke-linecap="butt"/>
<text x="54.5" y="419.5" style="font-family:Liberation Sans,sans-serif;font-weight:bold;font-size:44px">C</text>
<g fill="#ff00ff"><text transform="translate(975,423.7) scale(0.787,1)" style="font-family:'Liberation Serif',serif;font-weight:bold;font-style:italic;font-size:27.1px">N</text><text transform="translate(992.6,428.7) scale(1.063,1)" style="font-family:'Liberation Serif',serif;font-weight:bold;font-style:italic;font-size:18.9px">b</text><rect x="1011.6" y="412.9" width="16.1" height="2.2"/><rect x="1011.6" y="418.3" width="16.1" height="2.2"/><text transform="translate(1036.4,423.7) scale(1.120,1)" style="font-family:'Liberation Serif',serif;font-weight:bold;font-style:normal;font-size:27.1px">0</text><text transform="translate(1052,423.7) scale(1.120,1)" style="font-family:'Liberation Serif',serif;font-weight:normal;font-style:normal;font-size:27.1px">.</text><text transform="translate(1062.5,423.7) scale(1.120,1)" style="font-family:'Liberation Serif',serif;font-weight:bold;font-style:normal;font-size:27.1px">6</text><text transform="translate(1078.1,423.7) scale(1.120,1)" style="font-family:'Liberation Serif',serif;font-weight:bold;font-style:normal;font-size:27.1px">0</text></g>
<g fill="#0000ff"><text transform="translate(928.2,460.9) scale(0.985,1)" style="font-family:'Liberation Serif',serif;font-weight:bold;font-style:italic;font-size:27.1px">ε</text><rect x="948.5" y="450.1" width="16.1" height="2.2"/><rect x="948.5" y="455.5" width="16.1" height="2.2"/><text transform="translate(973.1,460.9) scale(1.120,1)" style="font-family:'Liberation Serif',serif;font-weight:bold;font-style:normal;font-size:27.1px">2</text><text transform="translate(988.4,460.9) scale(1.120,1)" style="font-family:'Liberation Serif',serif;font-weight:normal;font-style:normal;font-size:27.1px">.</text><text transform="translate(998.5,460.9) scale(1.120,1)" style="font-family:'Liberation Serif',serif;font-weight:bold;font-style:normal;font-size:27.1px">4</text><text transform="translate(1013.8,460.9) scale(1.120,1)" style="font-family:'Liberation Serif',serif;font-weight:bold;font-style:normal;font-size:27.1px">0</text></g>
<g fill="#ff0000"><text transform="translate(924.2,635.8) scale(0.806,1)" style="font-family:'Liberation Serif',serif;font-weight:bold;font-style:italic;font-size:27.1px" stroke="#ff0000" stroke-width="0.5">L</text><rect x="946.1" y="625" width="16.1" height="2.2"/><rect x="946.1" y="630.4" width="16.1" height="2.2"/><text transform="translate(970.8,635.8) scale(1.120,1)" style="font-family:'Liberation Serif',serif;font-weight:bold;font-style:normal;font-size:27.1px">0</text><text transform="translate(985.7,635.8) scale(1.120,1)" style="font-family:'Liberation Serif',serif;font-weight:normal;font-style:normal;font-size:27.1px">.</text><text transform="translate(995.4,635.8) scale(1.120,1)" style="font-family:'Liberation Serif',serif;font-weight:bold;font-style:normal;font-size:27.1px">4</text><text transform="translate(1010.2,635.8) scale(1.120,1)" style="font-family:'Liberation Serif',serif;font-weight:bold;font-style:normal;font-size:27.1px">8</text></g>
<g fill="#66ff33"><text transform="translate(889.3,671.9) scale(0.869,1)" style="font-family:'Liberation Serif',serif;font-weight:normal;font-style:normal;font-size:27.1px">Δ</text><text transform="translate(903.8,671.9) scale(0.997,1)" style="font-family:'Liberation Serif',serif;font-weight:bold;font-style:italic;font-size:27.1px">Q</text><rect x="932.2" y="661.1" width="16.1" height="2.2"/><rect x="932.2" y="666.5" width="16.1" height="2.2"/><text transform="translate(956.9,671.9) scale(1.120,1)" style="font-family:'Liberation Serif',serif;font-weight:bold;font-style:normal;font-size:27.1px">0</text><text transform="translate(971.5,671.9) scale(1.120,1)" style="font-family:'Liberation Serif',serif;font-weight:normal;font-style:normal;font-size:27.1px">.</text><text transform="translate(981,671.9) scale(1.120,1)" style="font-family:'Liberation Serif',serif;font-weight:bold;font-style:normal;font-size:27.1px">0</text><text transform="translate(995.6,671.9) scale(1.120,1)" style="font-family:'Liberation Serif',serif;font-weight:bold;font-style:normal;font-size:27.1px">0</text><text transform="translate(1010.2,671.9) scale(1.120,1)" style="font-family:'Liberation Serif',serif;font-weight:bold;font-style:normal;font-size:27.1px">6</text></g>
<g fill="#ff0000"><text transform="translate(1101.6,429.3) scale(0.806,1)" style="font-family:'Liberation Serif',serif;font-weight:bold;font-style:italic;font-size:27.1px" stroke="#ff0000" stroke-width="0.5">L</text><rect x="1123.5" y="418.5" width="16.1" height="2.2"/><rect x="1123.5" y="423.9" width="16.1" height="2.2"/><text transform="translate(1147,429.3) scale(1.120,1)" style="font-family:'Liberation Serif',serif;font-weight:bold;font-style:normal;font-size:27.1px">1</text><text transform="translate(1161.7,429.3) scale(1.120,1)" style="font-family:'Liberation Serif',serif;font-weight:normal;font-style:normal;font-size:27.1px">.</text><text transform="translate(1171.4,429.3) scale(1.120,1)" style="font-family:'Liberation Serif',serif;font-weight:bold;font-style:normal;font-size:27.1px">5</text><text transform="translate(1186.2,429.3) scale(1.120,1)" style="font-family:'Liberation Serif',serif;font-weight:bold;font-style:normal;font-size:27.1px">6</text></g>
<g fill="#66ff33"><text transform="translate(1214.7,430.5) scale(0.869,1)" style="font-family:'Liberation Serif',serif;font-weight:normal;font-style:normal;font-size:27.1px">Δ</text><text transform="translate(1229.2,430.5) scale(0.997,1)" style="font-family:'Liberation Serif',serif;font-weight:bold;font-style:italic;font-size:27.1px">Q</text><rect x="1257.6" y="419.7" width="16.1" height="2.2"/><rect x="1257.6" y="425.1" width="16.1" height="2.2"/><text transform="translate(1282.3,430.5) scale(1.120,1)" style="font-family:'Liberation Serif',serif;font-weight:bold;font-style:normal;font-size:27.1px">0</text><text transform="translate(1296.9,430.5) scale(1.120,1)" style="font-family:'Liberation Serif',serif;font-weight:normal;font-style:normal;font-size:27.1px">.</text><text transform="translate(1306.3,430.5) scale(1.120,1)" style="font-family:'Liberation Serif',serif;font-weight:bold;font-style:normal;font-size:27.1px">0</text><text transform="translate(1320.8,430.5) scale(1.120,1)" style="font-family:'Liberation Serif',serif;font-weight:bold;font-style:normal;font-size:27.1px">3</text></g>
<g fill="#ff0000"><text transform="translate(1242.4,567.5) scale(0.806,1)" style="font-family:'Liberation Serif',serif;font-weight:bold;font-style:italic;font-size:27.1px" stroke="#ff0000" stroke-width="0.5">L</text><rect x="1264.3" y="556.7" width="16.1" height="2.2"/><rect x="1264.3" y="562.1" width="16.1" height="2.2"/><text transform="translate(1289,567.5) scale(1.120,1)" style="font-family:'Liberation Serif',serif;font-weight:bold;font-style:normal;font-size:27.1px">0</text><text transform="translate(1303.3,567.5) scale(1.120,1)" style="font-family:'Liberation Serif',serif;font-weight:normal;font-style:normal;font-size:27.1px">.</text><text transform="translate(1312.4,567.5) scale(1.120,1)" style="font-family:'Liberation Serif',serif;font-weight:bold;font-style:normal;font-size:27.1px">8</text><text transform="translate(1326.7,567.5) scale(1.120,1)" style="font-family:'Liberation Serif',serif;font-weight:bold;font-style:normal;font-size:27.1px">4</text></g>
<g fill="#ff00ff"><text transform="translate(1242.4,619.6) scale(0.787,1)" style="font-family:'Liberation Serif',serif;font-weight:bold;font-style:italic;font-size:27.1px">N</text><text transform="translate(1260,624.6) scale(1.063,1)" style="font-family:'Liberation Serif',serif;font-weight:bold;font-style:italic;font-size:18.9px">b</text><rect x="1279" y="608.8" width="16.1" height="2.2"/><rect x="1279" y="614.2" width="16.1" height="2.2"/><text transform="translate(1303.8,619.6) scale(1.120,1)" style="font-family:'Liberation Serif',serif;font-weight:bold;font-style:normal;font-size:27.1px">0</text><text transform="translate(1318.8,619.6) scale(1.120,1)" style="font-family:'Liberation Serif',serif;font-weight:normal;font-style:normal;font-size:27.1px">.</text><text transform="translate(1328.7,619.6) scale(1.120,1)" style="font-family:'Liberation Serif',serif;font-weight:bold;font-style:normal;font-size:27.1px">2</text><text transform="translate(1343.7,619.6) scale(1.120,1)" style="font-family:'Liberation Serif',serif;font-weight:bold;font-style:normal;font-size:27.1px">0</text></g>
<g fill="#0000ff"><text transform="translate(1243.2,699.5) scale(0.985,1)" style="font-family:'Liberation Serif',serif;font-weight:bold;font-style:italic;font-size:27.1px">ε</text><rect x="1263.5" y="688.7" width="16.1" height="2.2"/><rect x="1263.5" y="694.1" width="16.1" height="2.2"/><text transform="translate(1288.3,699.5) scale(1.120,1)" style="font-family:'Liberation Serif',serif;font-weight:bold;font-style:normal;font-size:27.1px">0</text><text transform="translate(1303.2,699.5) scale(1.120,1)" style="font-family:'Liberation Serif',serif;font-weight:normal;font-style:normal;font-size:27.1px">.</text><text transform="translate(1313.1,699.5) scale(1.120,1)" style="font-family:'Liberation Serif',serif;font-weight:bold;font-style:normal;font-size:27.1px">1</text><text transform="translate(1328.1,699.5) scale(1.120,1)" style="font-family:'Liberation Serif',serif;font-weight:bold;font-style:normal;font-size:27.1px">7</text></g>
<path d="M780,429.3 L780,718.9 L1296.2,718.9" stroke="#000" stroke-width="4.8" fill="none" stroke-linejoin="miter"/>
<rect x="782.4" y="688.8" width="3.6" height="4.8" fill="#000"/>
<rect x="782.4" y="661.1" width="3.6" height="4.8" fill="#000"/>
<rect x="782.4" y="633.4" width="3.6" height="4.8" fill="#000"/>
<rect x="782.4" y="605.7" width="3.6" height="4.8" fill="#000"/>
<rect x="782.4" y="577.9" width="3.6" height="4.8" fill="#000"/>
<rect x="782.4" y="550.2" width="3.6" height="4.8" fill="#000"/>
<rect x="782.4" y="522.5" width="3.6" height="4.8" fill="#000"/>
<rect x="782.4" y="494.8" width="3.6" height="4.8" fill="#000"/>
<rect x="782.4" y="467.1" width="3.6" height="4.8" fill="#000"/>
<rect x="782.4" y="439.4" width="3.6" height="4.8" fill="#000"/>
<rect x="801.5" y="712.9" width="4.8" height="3.6" fill="#000"/>
<rect x="825.5" y="712.9" width="4.8" height="3.6" fill="#000"/>
<rect x="849.4" y="712.9" width="4.8" height="3.6" fill="#000"/>
<rect x="873.3" y="712.9" width="4.8" height="3.6" fill="#000"/>
<rect x="897.2" y="712.9" width="4.8" height="3.6" fill="#000"/>
<rect x="921.2" y="712.9" width="4.8" height="3.6" fill="#000"/>
<rect x="945.1" y="712.9" width="4.8" height="3.6" fill="#000"/>
<rect x="969" y="712.9" width="4.8" height="3.6" fill="#000"/>
<rect x="993" y="712.9" width="4.8" height="3.6" fill="#000"/>
<rect x="1016.9" y="712.9" width="4.8" height="3.6" fill="#000"/>
<rect x="1040.8" y="712.9" width="4.8" height="3.6" fill="#000"/>
<rect x="1064.8" y="712.9" width="4.8" height="3.6" fill="#000"/>
<rect x="1088.7" y="712.9" width="4.8" height="3.6" fill="#000"/>
<rect x="1112.6" y="712.9" width="4.8" height="3.6" fill="#000"/>
<rect x="1136.5" y="712.9" width="4.8" height="3.6" fill="#000"/>
<rect x="1160.5" y="712.9" width="4.8" height="3.6" fill="#000"/>
<rect x="1184.4" y="712.9" width="4.8" height="3.6" fill="#000"/>
<rect x="1208.3" y="712.9" width="4.8" height="3.6" fill="#000"/>
<rect x="1232.3" y="712.9" width="4.8" height="3.6" fill="#000"/>
<rect x="1256.2" y="712.9" width="4.8" height="3.6" fill="#000"/>
<rect x="1280.1" y="712.9" width="4.8" height="3.6" fill="#000"/>
<text x="0" y="0" transform="translate(780,762) scale(0.92,1)" text-anchor="middle" style="font-family:'Liberation Sans',sans-serif;font-size:48.7px">0</text>
<text x="0" y="0" transform="translate(899.6,762) scale(0.92,1)" text-anchor="middle" style="font-family:'Liberation Sans',sans-serif;font-size:48.7px">5</text>
<path d="M1010.4,727.9 L1010.4,762 L1006.9,762 L1006.9,735.4 C1004.3,737.4 1000.9,739.1 997.8,740.3 L997.8,737.1 C1001.2,735.4 1004.3,732.3 1006.4,727.9Z" fill="#000"/>
<text transform="translate(1017.7,762) scale(0.92,1)" style="font-family:'Liberation Sans',sans-serif;font-size:48.7px">0</text>
<path d="M1130.1,727.9 L1130.1,762 L1126.5,762 L1126.5,735.4 C1124,737.4 1120.6,739.1 1117.5,740.3 L1117.5,737.1 C1120.9,735.4 1124,732.3 1126,727.9Z" fill="#000"/>
<text transform="translate(1137.3,762) scale(0.92,1)" style="font-family:'Liberation Sans',sans-serif;font-size:48.7px">5</text>
<text x="0" y="0" transform="translate(1258.6,762) scale(0.92,1)" text-anchor="middle" style="font-family:'Liberation Sans',sans-serif;font-size:48.7px">20</text>
<text x="0" y="0" transform="translate(776.8,735.9) scale(0.92,1)" text-anchor="end" style="font-family:'Liberation Sans',sans-serif;font-size:48.7px">0</text>
<text x="0" y="0" transform="translate(776.8,597.4) scale(0.92,1)" text-anchor="end" style="font-family:'Liberation Sans',sans-serif;font-size:48.7px">0.5</text>
<path d="M769.8,424.8 L769.8,458.8 L766.2,458.8 L766.2,432.3 C763.7,434.3 760.3,436 757.2,437.2 L757.2,434 C760.6,432.3 763.7,429.2 765.7,424.8Z" fill="#000"/>
<path d="M780.7,632L782.7,629.6L784.7,627.3L786.7,624.9L788.8,622.6L790.8,620.2L792.8,617.9L794.8,615.5L796.8,613.1L798.8,610.7L800.8,608.2L802.9,605.7L804.9,603.1L806.9,600.5L808.9,597.8L810.9,595L812.9,592.2L814.9,589.2L817,586.2L819,583.1L821,579.9L823,576.6L825,573.1L827,569.6L829,565.9L831.1,562.2L833.1,558.4L835.1,554.5L837.1,550.6L839.1,546.6L841.1,542.6L843.2,538.5L845.2,534.5L847.2,530.4L849.2,526.4L851.2,522.3L853.2,518.3L855.2,514.2L857.3,510.2L859.3,506.1L861.3,502.1L863.3,498L865.3,494L867.3,490L869.3,486L871.4,482L873.4,478L875.4,474.1L877.4,470.1L879.4,466.2L881.4,462.3L883.4,458.4L885.5,454.5L887.5,450.7L889.5,446.8L891.5,443L893.5,446.5L895.5,449.9L897.6,453.3L899.6,456.6L901.6,459.9L903.6,463.2L905.6,466.5L907.7,469.7L909.7,472.9L911.7,476.1L913.7,479.3L915.7,482.4L917.8,485.6L919.8,488.7L921.8,491.8L923.8,494.9L925.8,498.1L927.9,501.2L929.9,504.3L931.9,507.4L933.9,510.5L936,513.7L938,516.8L940,519.8L942,522.9L944,525.9L946.1,528.9L948.1,531.9L950.1,534.8L952.1,537.6L954.1,540.5L956.2,543.2L958.2,545.9L960.2,548.5L962.2,551L964.2,553.5L966.3,555.8L968.3,558.1L970.3,560.3L972.3,562.4L974.3,564.3L976.4,566.2L978.4,567.9L980.4,569.5" stroke="#ff0000" stroke-width="4.8" fill="none" stroke-linejoin="round" stroke-linecap="butt"/>
<path d="M780.7,442L782.7,453.8L784.7,465.3L786.7,476.2L788.8,486.7L790.8,496.6L792.8,506.1L794.8,515L796.8,523.4L798.8,531.2L800.8,538.4L802.9,545.1L804.9,551.1L806.9,556.8L808.9,562L810.9,567L812.9,571.7L814.9,576.4L817,580.9L819,585.5L821,590L823,594.4L825,598.8L827,603.1L829,607.3L831.1,611.3L833.1,615.3L835.1,619.1L837.1,622.8L839.1,626.3L841.1,629.7L843.2,632.9L845.2,636.1L847.2,639.1L849.2,641.9L851.2,644.7L853.2,647.3L855.2,649.9L857.3,652.3L859.3,654.6L861.3,656.8L863.3,659L865.3,661L867.3,663L869.3,664.8L871.4,666.6L873.4,668.3L875.4,669.9L877.4,671.5L879.4,673L881.4,674.4L883.4,675.8L885.5,677.1L887.5,678.4L889.5,679.6L891.5,680.8L893.5,681.3L895.5,681.7L897.6,682.2L899.6,682.6L901.6,683.1L903.6,683.5L905.6,684L907.7,684.4L909.7,684.9L911.7,685.3L913.7,685.8L915.7,686.2L917.8,686.6L919.8,687.1L921.8,687.5L923.8,687.9L925.8,688.3L927.9,688.8L929.9,689.2L931.9,689.6L933.9,690L936,690.4L938,690.8L940,691.2L942,691.6L944,692L946.1,692.4L948.1,692.8L950.1,693.2L952.1,693.6L954.1,694L956.2,694.4L958.2,694.8L960.2,695.1L962.2,695.5L964.2,695.9L966.3,696.3L968.3,696.6L970.3,697L972.3,697.4L974.3,697.7L976.4,698.1L978.4,698.4L980.4,698.8" stroke="#0000ff" stroke-width="4.8" fill="none" stroke-linejoin="round" stroke-linecap="butt"/>
<path d="M1038.5,632L1040.5,629.6L1042.5,627.3L1044.5,624.9L1046.6,622.6L1048.6,620.2L1050.6,617.9L1052.6,615.5L1054.6,613.1L1056.6,610.7L1058.6,608.2L1060.7,605.7L1062.7,603.1L1064.7,600.5L1066.7,597.8L1068.7,595L1070.7,592.2L1072.7,589.2L1074.8,586.2L1076.8,583.1L1078.8,579.9L1080.8,576.6L1082.8,573.1L1084.8,569.6L1086.8,565.9L1088.9,562.2L1090.9,558.4L1092.9,554.5L1094.9,550.6L1096.9,546.6L1098.9,542.6L1101,538.5L1103,534.5L1105,530.4L1107,526.4L1109,522.3L1111,518.3L1113,514.2L1115.1,510.2L1117.1,506.1L1119.1,502.1L1121.1,498L1123.1,494L1125.1,490L1127.1,486L1129.2,482L1131.2,478L1133.2,474.1L1135.2,470.1L1137.2,466.2L1139.2,462.3L1141.2,458.4L1143.3,454.5L1145.3,450.7L1147.3,446.8L1149.3,443L1151.3,446.5L1153.3,449.9L1155.4,453.3L1157.4,456.6L1159.4,459.9L1161.4,463.2L1163.4,466.5L1165.5,469.7L1167.5,472.9L1169.5,476.1L1171.5,479.3L1173.5,482.4L1175.6,485.6L1177.6,488.7L1179.6,491.8L1181.6,494.9L1183.6,498.1L1185.7,501.2L1187.7,504.3L1189.7,507.4L1191.7,510.5L1193.8,513.7L1195.8,516.8L1197.8,519.8L1199.8,522.9L1201.8,525.9L1203.9,528.9L1205.9,531.9L1207.9,534.8L1209.9,537.6L1211.9,540.5L1214,543.2L1216,545.9L1218,548.5L1220,551L1222,553.5L1224.1,555.8L1226.1,558.1L1228.1,560.3L1230.1,562.4L1232.1,564.3L1234.2,566.2L1236.2,567.9L1238.2,569.5" stroke="#ff0000" stroke-width="4.8" fill="none" stroke-linejoin="round" stroke-linecap="butt"/>
<path d="M1038.5,442L1040.5,453.8L1042.5,465.3L1044.5,476.2L1046.6,486.7L1048.6,496.6L1050.6,506.1L1052.6,515L1054.6,523.4L1056.6,531.2L1058.6,538.4L1060.7,545.1L1062.7,551.1L1064.7,556.8L1066.7,562L1068.7,567L1070.7,571.7L1072.7,576.4L1074.8,580.9L1076.8,585.5L1078.8,590L1080.8,594.4L1082.8,598.8L1084.8,603.1L1086.8,607.3L1088.9,611.3L1090.9,615.3L1092.9,619.1L1094.9,622.8L1096.9,626.3L1098.9,629.7L1101,632.9L1103,636.1L1105,639.1L1107,641.9L1109,644.7L1111,647.3L1113,649.9L1115.1,652.3L1117.1,654.6L1119.1,656.8L1121.1,659L1123.1,661L1125.1,663L1127.1,664.8L1129.2,666.6L1131.2,668.3L1133.2,669.9L1135.2,671.5L1137.2,673L1139.2,674.4L1141.2,675.8L1143.3,677.1L1145.3,678.4L1147.3,679.6L1149.3,680.8L1151.3,681.3L1153.3,681.7L1155.4,682.2L1157.4,682.6L1159.4,683.1L1161.4,683.5L1163.4,684L1165.5,684.4L1167.5,684.9L1169.5,685.3L1171.5,685.8L1173.5,686.2L1175.6,686.6L1177.6,687.1L1179.6,687.5L1181.6,687.9L1183.6,688.3L1185.7,688.8L1187.7,689.2L1189.7,689.6L1191.7,690L1193.8,690.4L1195.8,690.8L1197.8,691.2L1199.8,691.6L1201.8,692L1203.9,692.4L1205.9,692.8L1207.9,693.2L1209.9,693.6L1211.9,694L1214,694.4L1216,694.8L1218,695.1L1220,695.5L1222,695.9L1224.1,696.3L1226.1,696.6L1228.1,697L1230.1,697.4L1232.1,697.7L1234.2,698.1L1236.2,698.4L1238.2,698.8" stroke="#0000ff" stroke-width="4.8" fill="none" stroke-linejoin="round" stroke-linecap="butt"/>
<path d="M780.7,442L782.7,442.7L784.7,443.4L786.8,444.2L788.8,445L790.8,445.9L792.8,446.8L794.8,447.8L796.8,448.8L798.9,449.8L800.9,450.9L802.9,452L804.9,453.2L806.9,454.4L808.9,455.7L811,457L813,458.3L815,459.7L817,461.1L819,462.6L821,464.1L823.1,465.7L825.1,467.3L827.1,468.9L829.1,470.6L831.1,472.3L833.1,474.1L835.2,475.9L837.2,477.7L839.2,479.6L841.2,481.5L843.2,483.5L845.2,485.5L847.3,487.5L849.3,489.5L851.3,491.6L853.3,493.7L855.3,495.8L857.4,498L859.4,500.2L861.4,502.3L863.4,504.6L865.4,506.8L867.4,509L869.5,511.3L871.5,513.6L873.5,515.9L875.5,518.3L877.5,520.6L879.5,523L881.6,525.4L883.6,527.8L885.6,530.3L887.6,532.8L889.6,535.3L891.6,537.8L893.7,540.3L895.7,542.9L897.7,545.4L899.7,548L901.7,550.6L903.7,553.1L905.8,555.7L907.8,558.2L909.8,560.7L911.8,563.2L913.8,565.7L915.9,568.1L917.9,570.5L919.9,572.9L921.9,575.2L923.9,577.4L925.9,579.7L928,581.8L930,584L932,586L934,588.1L936,590L938,592L940.1,593.8L942.1,595.7L944.1,597.4L946.1,599.1L948.1,600.8L950.1,602.4L952.2,603.9L954.2,605.4L956.2,606.9L958.2,608.2L960.2,609.5L962.2,610.8L964.3,611.9L966.3,613.1L968.3,614.1L970.3,615.1L972.3,616L974.3,616.9L976.4,617.6L978.4,618.4L980.4,619" stroke="#ff00ff" stroke-width="4.8" fill="none" stroke-linejoin="round" stroke-linecap="butt"/>
<path d="M1037.8,660.6L1037.8,441.9L1040.5,442.7L1042.5,443.4L1044.6,444.2L1046.6,445L1048.6,445.9L1050.6,446.8L1052.6,447.8L1054.6,448.8L1056.7,449.8L1058.7,450.9L1060.7,452L1062.7,453.2L1064.7,454.4L1066.7,455.7L1068.8,457L1070.8,458.3L1072.8,459.7L1074.8,461.1L1076.8,462.6L1078.8,464.1L1080.9,465.7L1082.9,467.3L1084.9,468.9L1086.9,470.6L1088.9,472.3L1090.9,474.1L1093,475.9L1095,477.7L1097,479.6L1099,481.5L1101,483.5L1103,485.5L1105.1,487.5L1107.1,489.5L1109.1,491.6L1111.1,493.7L1113.1,495.8L1115.2,498L1117.2,500.2L1119.2,502.3L1121.2,504.6L1123.2,506.8L1125.2,509L1127.3,511.3L1129.3,513.6L1131.3,515.9L1133.3,518.3L1135.3,520.6L1137.3,523L1139.4,525.4L1141.4,527.8L1143.4,530.3L1145.4,532.8L1147.4,535.3L1149.4,537.8L1151.5,540.3L1153.5,542.9L1155.5,545.4L1157.5,548L1159.5,550.6L1161.5,553.1L1163.6,555.7L1165.6,558.2L1167.6,560.7L1169.6,563.2L1171.6,565.7L1173.7,568.1L1175.7,570.5L1177.7,572.9L1179.7,575.2L1181.7,577.4L1183.7,579.7L1185.8,581.8L1187.8,584L1189.8,586L1191.8,588.1L1193.8,590L1195.8,592L1197.9,593.8L1199.9,595.7L1201.9,597.4L1203.9,599.1L1205.9,600.8L1207.9,602.4L1210,603.9L1212,605.4L1214,606.9L1216,608.2L1218,609.5L1220,610.8L1222.1,611.9L1224.1,613.1L1226.1,614.1L1228.1,615.1L1230.1,616L1232.1,616.9L1234.2,617.6L1236.2,618.4L1238.2,619" stroke="#ff00ff" stroke-width="4.8" fill="none" stroke-linejoin="round" stroke-linecap="butt"/>
<path d="M780.7,660.6L782.7,658.1L784.7,655.6L786.7,653.2L788.8,650.8L790.8,648.4L792.8,646.1L794.8,643.8L796.8,641.5L798.8,639.2L800.8,636.9L802.9,634.6L804.9,632.2L806.9,629.9L808.9,627.6L810.9,625.2L812.9,622.8L814.9,620.3L817,617.8L819,615.3L821,612.7L823,610L825,607.3L827,604.5L829,601.6L831.1,598.5L833.1,595.4L835.1,592L837.1,588.6L839.1,584.9L841.1,581.1L843.2,577L845.2,572.7L847.2,568.2L849.2,563.4L851.2,558.5L853.2,553.3L855.2,548L857.3,542.6L859.3,537.1L861.3,531.5L863.3,525.9L865.3,520.3L867.3,514.7L869.3,509.1L871.4,503.5L873.4,497.8L875.4,492.1L877.4,486.3L879.4,480.5L881.4,474.4L883.4,468.3L885.5,462L887.5,455.5L889.5,448.8L891.5,441.9L980.4,441.9L980.4,718.9L1037.8,718.9L1037.8,660.6L1040.5,658.1L1042.5,655.6L1044.5,653.2L1046.6,650.8L1048.6,648.4L1050.6,646.1L1052.6,643.8L1054.6,641.5L1056.6,639.2L1058.6,636.9L1060.7,634.6L1062.7,632.2L1064.7,629.9L1066.7,627.6L1068.7,625.2L1070.7,622.8L1072.7,620.3L1074.8,617.8L1076.8,615.3L1078.8,612.7L1080.8,610L1082.8,607.3L1084.8,604.5L1086.8,601.6L1088.9,598.5L1090.9,595.4L1092.9,592L1094.9,588.6L1096.9,584.9L1098.9,581.1L1101,577L1103,572.7L1105,568.2L1107,563.4L1109,558.5L1111,553.3L1113,548L1115.1,542.6L1117.1,537.1L1119.1,531.5L1121.1,525.9L1123.1,520.3L1125.1,514.7L1127.1,509.1L1129.2,503.5L1131.2,497.8L1133.2,492.1L1135.2,486.3L1137.2,480.5L1139.2,474.4L1141.2,468.3L1143.3,462L1145.3,455.5L1147.3,448.8L1149.3,441.9L1238.2,441.9L1238.2,718.9L1296.2,718.9" stroke="#00ff00" stroke-width="4.8" fill="none" stroke-linejoin="round" stroke-linecap="butt"/>
<text x="709.3" y="419.8" style="font-family:Liberation Sans,sans-serif;font-weight:bold;font-size:44px">D</text>
<g clip-path="url(#clipE)">
<g fill="#ff00ff"><text transform="translate(341.3,802.9) scale(0.830,1)" style="font-family:'Liberation Serif',serif;font-weight:bold;font-style:italic;font-size:25.4px">N</text><text transform="translate(358.7,807.6) scale(1.121,1)" style="font-family:'Liberation Serif',serif;font-weight:bold;font-style:italic;font-size:17.8px">b</text><rect x="377.4" y="792.8" width="15.8" height="2.1"/><rect x="377.4" y="797.9" width="15.8" height="2.1"/><text transform="translate(401.9,802.9) scale(1.146,1)" style="font-family:'Liberation Serif',serif;font-weight:bold;font-style:normal;font-size:25.4px">0</text><text transform="translate(417.3,802.9) scale(1.146,1)" style="font-family:'Liberation Serif',serif;font-weight:normal;font-style:normal;font-size:25.4px">.</text><text transform="translate(427.8,802.9) scale(1.146,1)" style="font-family:'Liberation Serif',serif;font-weight:bold;font-style:normal;font-size:25.4px">6</text><text transform="translate(443.2,802.9) scale(1.146,1)" style="font-family:'Liberation Serif',serif;font-weight:bold;font-style:normal;font-size:25.4px">0</text></g>
<g fill="#0000ff"><text transform="translate(290.3,833.6) scale(1.038,1)" style="font-family:'Liberation Serif',serif;font-weight:bold;font-style:italic;font-size:25.4px">ε</text><rect x="310.2" y="823.5" width="15.8" height="2.1"/><rect x="310.2" y="828.6" width="15.8" height="2.1"/><text transform="translate(334.6,833.6) scale(1.146,1)" style="font-family:'Liberation Serif',serif;font-weight:bold;font-style:normal;font-size:25.4px">2</text><text transform="translate(349.4,833.6) scale(1.146,1)" style="font-family:'Liberation Serif',serif;font-weight:normal;font-style:normal;font-size:25.4px">.</text><text transform="translate(359.3,833.6) scale(1.146,1)" style="font-family:'Liberation Serif',serif;font-weight:bold;font-style:normal;font-size:25.4px">4</text><text transform="translate(374.1,833.6) scale(1.146,1)" style="font-family:'Liberation Serif',serif;font-weight:bold;font-style:normal;font-size:25.4px">0</text></g>
<g fill="#000000"><text transform="translate(281.2,861) scale(0.969,1)" style="font-family:'Liberation Serif',serif;font-weight:bold;font-style:italic;font-size:25.4px">β</text><text transform="translate(295.8,857.3) scale(1.000,1)" style="font-family:'Liberation Serif',serif;font-weight:normal;font-style:normal;font-size:18.3px">*</text><rect x="313.3" y="850.9" width="15.8" height="2.1"/><rect x="313.3" y="856" width="15.8" height="2.1"/><text transform="translate(337.9,861) scale(1.146,1)" style="font-family:'Liberation Serif',serif;font-weight:bold;font-style:normal;font-size:25.4px">0</text><text transform="translate(353.1,861) scale(1.146,1)" style="font-family:'Liberation Serif',serif;font-weight:normal;font-style:normal;font-size:25.4px">.</text><text transform="translate(363.4,861) scale(1.146,1)" style="font-family:'Liberation Serif',serif;font-weight:bold;font-style:normal;font-size:25.4px">7</text><text transform="translate(378.6,861) scale(1.146,1)" style="font-family:'Liberation Serif',serif;font-weight:bold;font-style:normal;font-size:25.4px">5</text></g>
<g fill="#66ff33"><text transform="translate(257,1043.7) scale(0.917,1)" style="font-family:'Liberation Serif',serif;font-weight:normal;font-style:normal;font-size:25.4px">Δ</text><text transform="translate(271.4,1043.7) scale(1.052,1)" style="font-family:'Liberation Serif',serif;font-weight:bold;font-style:italic;font-size:25.4px">Q</text><rect x="299.2" y="1033.6" width="15.8" height="2.1"/><rect x="299.2" y="1038.7" width="15.8" height="2.1"/><text transform="translate(323.7,1043.7) scale(1.146,1)" style="font-family:'Liberation Serif',serif;font-weight:bold;font-style:normal;font-size:25.4px">0</text><text transform="translate(338.3,1043.7) scale(1.146,1)" style="font-family:'Liberation Serif',serif;font-weight:normal;font-style:normal;font-size:25.4px">.</text><text transform="translate(348.1,1043.7) scale(1.146,1)" style="font-family:'Liberation Serif',serif;font-weight:bold;font-style:normal;font-size:25.4px">0</text><text transform="translate(362.7,1043.7) scale(1.146,1)" style="font-family:'Liberation Serif',serif;font-weight:bold;font-style:normal;font-size:25.4px">0</text><text transform="translate(377.3,1043.7) scale(1.146,1)" style="font-family:'Liberation Serif',serif;font-weight:bold;font-style:normal;font-size:25.4px">6</text></g>
<g fill="#ff0000"><text transform="translate(291.9,1073) scale(0.849,1)" style="font-family:'Liberation Serif',serif;font-weight:bold;font-style:italic;font-size:25.4px" stroke="#ff0000" stroke-width="0.5">L</text><rect x="313.4" y="1062.9" width="15.8" height="2.1"/><rect x="313.4" y="1068" width="15.8" height="2.1"/><text transform="translate(337.9,1073) scale(1.146,1)" style="font-family:'Liberation Serif',serif;font-weight:bold;font-style:normal;font-size:25.4px">0</text><text transform="translate(352.6,1073) scale(1.146,1)" style="font-family:'Liberation Serif',serif;font-weight:normal;font-style:normal;font-size:25.4px">.</text><text transform="translate(362.6,1073) scale(1.146,1)" style="font-family:'Liberation Serif',serif;font-weight:bold;font-style:normal;font-size:25.4px">4</text><text transform="translate(377.4,1073) scale(1.146,1)" style="font-family:'Liberation Serif',serif;font-weight:bold;font-style:normal;font-size:25.4px">8</text></g>
<g fill="#ff0000"><text transform="translate(450,832.1) scale(0.849,1)" style="font-family:'Liberation Serif',serif;font-weight:bold;font-style:italic;font-size:25.4px" stroke="#ff0000" stroke-width="0.5">L</text><rect x="471.5" y="822" width="15.8" height="2.1"/><rect x="471.5" y="827.1" width="15.8" height="2.1"/><text transform="translate(495.8,832.1) scale(1.146,1)" style="font-family:'Liberation Serif',serif;font-weight:bold;font-style:normal;font-size:25.4px">2</text><text transform="translate(510.1,832.1) scale(1.146,1)" style="font-family:'Liberation Serif',serif;font-weight:normal;font-style:normal;font-size:25.4px">.</text><text transform="translate(519.5,832.1) scale(1.146,1)" style="font-family:'Liberation Serif',serif;font-weight:bold;font-style:normal;font-size:25.4px">5</text><text transform="translate(533.7,832.1) scale(1.146,1)" style="font-family:'Liberation Serif',serif;font-weight:bold;font-style:normal;font-size:25.4px">8</text></g>
<g fill="#66ff33"><text transform="translate(560.3,832.1) scale(0.917,1)" style="font-family:'Liberation Serif',serif;font-weight:normal;font-style:normal;font-size:25.4px">Δ</text><text transform="translate(574.7,832.1) scale(1.052,1)" style="font-family:'Liberation Serif',serif;font-weight:bold;font-style:italic;font-size:25.4px">Q</text><rect x="602.5" y="822" width="15.8" height="2.1"/><rect x="602.5" y="827.1" width="15.8" height="2.1"/><text transform="translate(627,832.1) scale(1.146,1)" style="font-family:'Liberation Serif',serif;font-weight:bold;font-style:normal;font-size:25.4px">0</text><text transform="translate(641.2,832.1) scale(1.146,1)" style="font-family:'Liberation Serif',serif;font-weight:normal;font-style:normal;font-size:25.4px">.</text><text transform="translate(650.5,832.1) scale(1.146,1)" style="font-family:'Liberation Serif',serif;font-weight:bold;font-style:normal;font-size:25.4px">0</text><text transform="translate(664.7,832.1) scale(1.146,1)" style="font-family:'Liberation Serif',serif;font-weight:bold;font-style:normal;font-size:25.4px">3</text></g>
<g fill="#ff0000"><text transform="translate(604.7,969.2) scale(0.849,1)" style="font-family:'Liberation Serif',serif;font-weight:bold;font-style:italic;font-size:25.4px" stroke="#ff0000" stroke-width="0.5">L</text><rect x="626.2" y="959.1" width="15.8" height="2.1"/><rect x="626.2" y="964.2" width="15.8" height="2.1"/><text transform="translate(649.4,969.2) scale(1.146,1)" style="font-family:'Liberation Serif',serif;font-weight:bold;font-style:normal;font-size:25.4px">1</text><text transform="translate(664.3,969.2) scale(1.146,1)" style="font-family:'Liberation Serif',serif;font-weight:normal;font-style:normal;font-size:25.4px">.</text><text transform="translate(674.4,969.2) scale(1.146,1)" style="font-family:'Liberation Serif',serif;font-weight:bold;font-style:normal;font-size:25.4px">3</text><text transform="translate(689.3,969.2) scale(1.146,1)" style="font-family:'Liberation Serif',serif;font-weight:bold;font-style:normal;font-size:25.4px">5</text></g>
<g fill="#000000"><text transform="translate(605.2,1025) scale(0.969,1)" style="font-family:'Liberation Serif',serif;font-weight:bold;font-style:italic;font-size:25.4px">β</text><text transform="translate(619.8,1021.3) scale(1.000,1)" style="font-family:'Liberation Serif',serif;font-weight:normal;font-style:normal;font-size:18.3px">*</text><rect x="637.3" y="1014.9" width="15.8" height="2.1"/><rect x="637.3" y="1020" width="15.8" height="2.1"/><text transform="translate(661.9,1025) scale(1.146,1)" style="font-family:'Liberation Serif',serif;font-weight:bold;font-style:normal;font-size:25.4px">0</text><text transform="translate(677.4,1025) scale(1.146,1)" style="font-family:'Liberation Serif',serif;font-weight:normal;font-style:normal;font-size:25.4px">.</text><text transform="translate(688.1,1025) scale(1.146,1)" style="font-family:'Liberation Serif',serif;font-weight:bold;font-style:normal;font-size:25.4px">2</text><text transform="translate(703.6,1025) scale(1.146,1)" style="font-family:'Liberation Serif',serif;font-weight:bold;font-style:normal;font-size:25.4px">5</text></g>
<g fill="#ff00ff"><text transform="translate(603.3,1062.8) scale(0.830,1)" style="font-family:'Liberation Serif',serif;font-weight:bold;font-style:italic;font-size:25.4px">N</text><text transform="translate(620.7,1067.5) scale(1.121,1)" style="font-family:'Liberation Serif',serif;font-weight:bold;font-style:italic;font-size:17.8px">b</text><rect x="639.4" y="1052.7" width="15.8" height="2.1"/><rect x="639.4" y="1057.8" width="15.8" height="2.1"/><text transform="translate(663.9,1062.8) scale(1.146,1)" style="font-family:'Liberation Serif',serif;font-weight:bold;font-style:normal;font-size:25.4px">0</text><text transform="translate(679.4,1062.8) scale(1.146,1)" style="font-family:'Liberation Serif',serif;font-weight:normal;font-style:normal;font-size:25.4px">.</text><text transform="translate(690.1,1062.8) scale(1.146,1)" style="font-family:'Liberation Serif',serif;font-weight:bold;font-style:normal;font-size:25.4px">1</text><text transform="translate(705.7,1062.8) scale(1.146,1)" style="font-family:'Liberation Serif',serif;font-weight:bold;font-style:normal;font-size:25.4px">1</text></g>
<g fill="#0000ff"><text transform="translate(604.9,1102) scale(1.038,1)" style="font-family:'Liberation Serif',serif;font-weight:bold;font-style:italic;font-size:25.4px">ε</text><rect x="624.8" y="1091.9" width="15.8" height="2.1"/><rect x="624.8" y="1097" width="15.8" height="2.1"/><text transform="translate(649.3,1102) scale(1.146,1)" style="font-family:'Liberation Serif',serif;font-weight:bold;font-style:normal;font-size:25.4px">0</text><text transform="translate(663.9,1102) scale(1.146,1)" style="font-family:'Liberation Serif',serif;font-weight:normal;font-style:normal;font-size:25.4px">.</text><text transform="translate(673.6,1102) scale(1.146,1)" style="font-family:'Liberation Serif',serif;font-weight:bold;font-style:normal;font-size:25.4px">0</text><text transform="translate(688.2,1102) scale(1.146,1)" style="font-family:'Liberation Serif',serif;font-weight:bold;font-style:normal;font-size:25.4px">9</text></g>
<path d="M121.2,829.6 L121.2,1126 L674.9,1126" stroke="#000" stroke-width="4.8" fill="none" stroke-linejoin="miter"/>
<rect x="123.6" y="1095.2" width="3.6" height="4.8" fill="#000"/>
<rect x="123.6" y="1066.9" width="3.6" height="4.8" fill="#000"/>
<rect x="123.6" y="1038.5" width="3.6" height="4.8" fill="#000"/>
<rect x="123.6" y="1010.2" width="3.6" height="4.8" fill="#000"/>
<rect x="123.6" y="981.9" width="3.6" height="4.8" fill="#000"/>
<rect x="123.6" y="953.5" width="3.6" height="4.8" fill="#000"/>
<rect x="123.6" y="925.1" width="3.6" height="4.8" fill="#000"/>
<rect x="123.6" y="896.8" width="3.6" height="4.8" fill="#000"/>
<rect x="123.6" y="868.5" width="3.6" height="4.8" fill="#000"/>
<rect x="123.6" y="840.1" width="3.6" height="4.8" fill="#000"/>
<rect x="151.8" y="1120" width="4.8" height="3.6" fill="#000"/>
<rect x="184.7" y="1120" width="4.8" height="3.6" fill="#000"/>
<rect x="217.7" y="1120" width="4.8" height="3.6" fill="#000"/>
<rect x="250.6" y="1120" width="4.8" height="3.6" fill="#000"/>
<rect x="283.6" y="1120" width="4.8" height="3.6" fill="#000"/>
<rect x="316.5" y="1120" width="4.8" height="3.6" fill="#000"/>
<rect x="349.5" y="1120" width="4.8" height="3.6" fill="#000"/>
<rect x="382.4" y="1120" width="4.8" height="3.6" fill="#000"/>
<rect x="415.4" y="1120" width="4.8" height="3.6" fill="#000"/>
<rect x="448.3" y="1120" width="4.8" height="3.6" fill="#000"/>
<rect x="481.3" y="1120" width="4.8" height="3.6" fill="#000"/>
<rect x="514.2" y="1120" width="4.8" height="3.6" fill="#000"/>
<rect x="547.2" y="1120" width="4.8" height="3.6" fill="#000"/>
<rect x="580.1" y="1120" width="4.8" height="3.6" fill="#000"/>
<rect x="613.1" y="1120" width="4.8" height="3.6" fill="#000"/>
<rect x="646" y="1120" width="4.8" height="3.6" fill="#000"/>
<text x="0" y="0" transform="translate(121.2,1171.6) scale(0.95,1)" text-anchor="middle" style="font-family:'Liberation Sans',sans-serif;font-size:50.1px">0</text>
<text x="0" y="0" transform="translate(285.9,1171.6) scale(0.95,1)" text-anchor="middle" style="font-family:'Liberation Sans',sans-serif;font-size:50.1px">5</text>
<path d="M441.2,1136.5 L441.2,1171.6 L437.6,1171.6 L437.6,1144.2 C434.9,1146.3 431.4,1148.1 428.3,1149.3 L428.3,1146 C431.8,1144.2 434.9,1141.1 437,1136.5Z" fill="#000"/>
<text transform="translate(448.6,1171.6) scale(0.95,1)" style="font-family:'Liberation Sans',sans-serif;font-size:50.1px">0</text>
<path d="M606,1136.5 L606,1171.6 L602.3,1171.6 L602.3,1144.2 C599.7,1146.3 596.2,1148.1 593,1149.3 L593,1146 C596.5,1144.2 599.7,1141.1 601.8,1136.5Z" fill="#000"/>
<text transform="translate(613.4,1171.6) scale(0.95,1)" style="font-family:'Liberation Sans',sans-serif;font-size:50.1px">5</text>
<text x="0" y="0" transform="translate(117.7,1143.5) scale(0.95,1)" text-anchor="end" style="font-family:'Liberation Sans',sans-serif;font-size:50.1px">0</text>
<text x="0" y="0" transform="translate(117.7,1001.8) scale(0.95,1)" text-anchor="end" style="font-family:'Liberation Sans',sans-serif;font-size:50.1px">0.5</text>
<path d="M110.6,825 L110.6,860 L106.9,860 L106.9,832.7 C104.3,834.8 100.8,836.5 97.6,837.8 L97.6,834.4 C101.1,832.7 104.3,829.5 106.4,825Z" fill="#000"/>
<path d="M121.2,1071.7L123.2,1069.4L125.3,1067.2L127.3,1065L129.4,1062.9L131.4,1060.8L133.5,1058.7L135.6,1056.5L137.6,1054.2L139.7,1051.9L141.7,1049.4L143.8,1046.8L145.8,1044L147.8,1041L149.9,1037.7L151.9,1034.2L154,1030.4L156.1,1026.3L158.1,1021.9L160.2,1017.1L162.2,1012L164.2,1006.5L166.3,1000.7L168.3,994.6L170.4,988.3L172.4,981.7L174.5,974.9L176.5,967.8L178.6,960.4L180.6,952.6L182.7,944.3L184.8,935.5L186.8,926L188.8,916.1L190.9,905.8L192.9,895.2L195,884.6L197.1,873.9L199.1,863.4L201.1,853.1L203.2,843.3L279.4,843.3L281.5,852L283.5,860.3L285.6,868.2L287.6,875.6L289.7,882.5L291.7,888.9L293.8,894.9L295.8,900.8L297.9,906.7L299.9,912.8L302,919.1L304.1,925.4L306.1,931.8L308.2,938.3L310.2,944.8L312.3,951.5L314.3,958.2L316.4,965.1L318.4,972L320.5,979" stroke="#ff0000" stroke-width="5.6" fill="none" stroke-linejoin="round" stroke-linecap="butt"/>
<path d="M121.2,845L123.2,854L125.2,862.3L127.2,870.1L129.2,877.3L131.2,884L133.2,890.4L135.2,896.4L137.2,902L139.2,907.5L141.2,912.7L143.2,917.7L145.2,922.6L147.2,927.3L149.2,931.9L151.2,936.3L153.2,940.5L155.2,944.7L157.2,948.8L159.2,952.7L161.3,956.6L163.3,960.4L165.3,964.2L167.3,967.8L169.3,971.5L171.3,975.1L173.3,978.8L175.3,982.4L177.3,986.1L179.3,989.8L181.3,993.6L183.3,997.4L185.3,1001.1L187.3,1004.8L189.3,1008.4L191.3,1011.8L193.3,1015.2L195.3,1018.3L197.3,1021.4L199.3,1024.3L201.3,1027.1L203.3,1029.8L205.3,1032.4L207.3,1034.9L209.3,1037.4L211.3,1039.8L213.3,1042.2L215.3,1044.6L217.3,1046.9L219.3,1049.2L221.3,1051.4L223.3,1053.7L225.3,1055.9L227.3,1058L229.3,1060.2L231.3,1062.4L233.3,1064.5L235.3,1066.6L237.3,1068.7L239.3,1070.8L241.4,1072.8L243.4,1074.9L245.4,1076.9L247.4,1078.8L249.4,1080.8L251.4,1082.7L253.4,1084.5L255.4,1086.4L257.4,1088.1L259.4,1089.9L261.4,1091.6L263.4,1093.2L265.4,1094.8L267.4,1096.4L269.4,1097.8L271.4,1099.3L273.4,1100.6L275.4,1102L277.4,1103.2L279.4,1104.4L281.5,1104.9L283.5,1105.4L285.6,1105.9L287.6,1106.4L289.7,1106.9L291.7,1107.4L293.8,1107.9L295.8,1108.4L297.9,1108.9L299.9,1109.5L302,1110L304.1,1110.5L306.1,1111L308.2,1111.5L310.2,1112L312.3,1112.5L314.3,1113L316.4,1113.5L318.4,1114L320.5,1114.5" stroke="#0000ff" stroke-width="5.6" fill="none" stroke-linejoin="round" stroke-linecap="butt"/>
<path d="M121.2,842.1L123.2,843L125.2,843.8L127.2,844.6L129.3,845.4L131.3,846.2L133.3,847L135.3,847.8L137.3,848.6L139.3,849.3L141.3,850.2L143.3,851L145.4,851.8L147.4,852.7L149.4,853.7L151.4,854.6L153.4,855.6L155.4,856.7L157.4,857.8L159.4,859L161.5,860.2L163.5,861.5L165.5,862.9L167.5,864.4L169.5,865.9L171.5,867.5L173.5,869.3L175.6,871.1L177.6,873L179.6,875L181.6,877.1L183.6,879.3L185.6,881.6L187.6,884L189.6,886.5L191.7,889.1L193.7,891.8L195.7,894.6L197.7,897.4L199.7,900.3L201.7,903.2L203.7,906.2L205.8,909.3L207.8,912.4L209.8,915.5L211.8,918.7L213.8,921.8L215.8,925L217.8,928.3L219.8,931.5L221.9,934.7L223.9,938L225.9,941.2L227.9,944.4L229.9,947.6L231.9,950.9L233.9,954.1L235.9,957.3L238,960.5L240,963.8L242,967L244,970.2L246,973.4L248,976.6L250,979.9L252.1,983.1L254.1,986.3L256.1,989.5L258.1,992.8L260.1,996L262.1,999.2L264.1,1002.4L266.1,1005.6L268.2,1008.8L270.2,1012.1L272.2,1015.3L274.2,1018.5L276.2,1021.6L278.2,1024.8L280.2,1027.9L282.3,1031L284.3,1034L286.3,1037L288.3,1039.9L290.3,1042.7L292.3,1045.5L294.3,1048.2L296.3,1050.8L298.4,1053.2L300.4,1055.6L302.4,1057.9L304.4,1060L306.4,1062.1L308.4,1063.9L310.4,1065.7L312.4,1067.3L314.5,1068.7L316.5,1070L318.5,1071.1L320.5,1072" stroke="#ff00ff" stroke-width="5.6" fill="none" stroke-linejoin="round" stroke-linecap="butt"/>
<path d="M121.2,1068.5L123.2,1067.3L125.2,1066L127.2,1064.6L129.2,1063.2L131.2,1061.7L133.2,1060.2L135.2,1058.6L137.2,1056.9L139.2,1055.3L141.2,1053.6L143.2,1051.8L145.2,1050.1L147.2,1048.3L149.2,1046.5L151.2,1044.7L153.2,1042.8L155.2,1041L157.2,1039.2L159.2,1037.3L161.3,1035.5L163.3,1033.6L165.3,1031.8L167.3,1029.9L169.3,1028.1L171.3,1026.3L173.3,1024.4L175.3,1022.6L177.3,1020.8L179.3,1019L181.3,1017.1L183.3,1015.3L185.3,1013.5L187.3,1011.7L189.3,1009.9L191.3,1008L193.3,1006.2L195.3,1004.4L197.3,1002.5L199.3,1000.6L201.3,998.8L203.3,996.8L205.3,994.9L207.3,992.9L209.3,990.9L211.3,988.9L213.3,986.8L215.3,984.6L217.3,982.4L219.3,980.2L221.3,977.8L223.3,975.4L225.3,972.9L227.3,970.4L229.3,967.7L231.3,964.9L233.3,962L235.3,959L237.3,955.9L239.3,952.6L241.4,949.2L243.4,945.6L245.4,941.9L247.4,938L249.4,933.9L251.4,929.6L253.4,925.2L255.4,920.5L257.4,915.6L259.4,910.4L261.4,905L263.4,899.4L265.4,893.4L267.4,887.2L269.4,880.7L271.4,873.9L273.4,866.8L275.4,859.3L277.4,851.5L279.4,843.3L320.5,843.3L320.5,1030.6" stroke="#00ff00" stroke-width="5.6" fill="none" stroke-linejoin="round" stroke-linecap="butt"/>
<path d="M400.8,1071.7L402.8,1069.4L404.8,1067.3L406.8,1065.2L408.8,1063.1L410.8,1061L412.8,1059L414.8,1056.8L416.8,1054.7L418.8,1052.4L420.8,1050L422.8,1047.5L424.8,1044.8L426.8,1041.9L428.8,1038.9L430.8,1035.5L432.8,1031.9L434.8,1028.1L436.8,1023.9L438.8,1019.4L440.8,1014.5L442.8,1009.3L444.8,1003.8L446.8,998.1L448.8,992L450.8,985.7L452.8,979.2L454.8,972.5L456.8,965.5L458.8,958.2L460.8,950.4L462.8,942.2L464.8,933.4L466.8,924.1L468.8,914.4L470.8,904.3L472.8,893.9L474.8,883.5L476.8,873.1L478.8,862.9L480.8,852.9L482.8,843.3L559,843.3L561.1,852L563.1,860.3L565.2,868.2L567.2,875.6L569.3,882.5L571.3,888.9L573.4,894.9L575.4,900.8L577.5,906.7L579.5,912.8L581.6,919.1L583.7,925.4L585.7,931.8L587.8,938.3L589.8,944.8L591.9,951.5L593.9,958.2L596,965.1L598,972L600.1,979" stroke="#ff0000" stroke-width="5.6" fill="none" stroke-linejoin="round" stroke-linecap="butt"/>
<path d="M400.8,845L402.8,854L404.8,862.3L406.8,870.1L408.8,877.3L410.8,884L412.8,890.4L414.8,896.4L416.8,902L418.8,907.5L420.8,912.7L422.8,917.7L424.8,922.6L426.8,927.3L428.8,931.9L430.8,936.3L432.8,940.5L434.8,944.7L436.8,948.8L438.8,952.7L440.9,956.6L442.9,960.4L444.9,964.2L446.9,967.8L448.9,971.5L450.9,975.1L452.9,978.8L454.9,982.4L456.9,986.1L458.9,989.8L460.9,993.6L462.9,997.4L464.9,1001.1L466.9,1004.8L468.9,1008.4L470.9,1011.8L472.9,1015.2L474.9,1018.3L476.9,1021.4L478.9,1024.3L480.9,1027.1L482.9,1029.8L484.9,1032.4L486.9,1034.9L488.9,1037.4L490.9,1039.8L492.9,1042.2L494.9,1044.6L496.9,1046.9L498.9,1049.2L500.9,1051.4L502.9,1053.7L504.9,1055.9L506.9,1058L508.9,1060.2L510.9,1062.4L512.9,1064.5L514.9,1066.6L516.9,1068.7L518.9,1070.8L521,1072.8L523,1074.9L525,1076.9L527,1078.8L529,1080.8L531,1082.7L533,1084.5L535,1086.4L537,1088.1L539,1089.9L541,1091.6L543,1093.2L545,1094.8L547,1096.4L549,1097.8L551,1099.3L553,1100.6L555,1102L557,1103.2L559,1104.4L561.1,1104.9L563.1,1105.4L565.2,1105.9L567.2,1106.4L569.3,1106.9L571.3,1107.4L573.4,1107.9L575.4,1108.4L577.5,1108.9L579.5,1109.5L581.6,1110L583.7,1110.5L585.7,1111L587.8,1111.5L589.8,1112L591.9,1112.5L593.9,1113L596,1113.5L598,1114L600.1,1114.5" stroke="#0000ff" stroke-width="5.6" fill="none" stroke-linejoin="round" stroke-linecap="butt"/>
<path d="M400.8,842.1L402.8,843L404.8,843.8L406.8,844.6L408.9,845.4L410.9,846.2L412.9,847L414.9,847.8L416.9,848.6L418.9,849.3L420.9,850.2L422.9,851L425,851.8L427,852.7L429,853.7L431,854.6L433,855.6L435,856.7L437,857.8L439,859L441.1,860.2L443.1,861.5L445.1,862.9L447.1,864.4L449.1,865.9L451.1,867.5L453.1,869.3L455.2,871.1L457.2,873L459.2,875L461.2,877.1L463.2,879.3L465.2,881.6L467.2,884L469.2,886.5L471.3,889.1L473.3,891.8L475.3,894.6L477.3,897.4L479.3,900.3L481.3,903.2L483.3,906.2L485.4,909.3L487.4,912.4L489.4,915.5L491.4,918.7L493.4,921.8L495.4,925L497.4,928.3L499.4,931.5L501.5,934.7L503.5,938L505.5,941.2L507.5,944.4L509.5,947.6L511.5,950.9L513.5,954.1L515.5,957.3L517.6,960.5L519.6,963.8L521.6,967L523.6,970.2L525.6,973.4L527.6,976.6L529.6,979.9L531.7,983.1L533.7,986.3L535.7,989.5L537.7,992.8L539.7,996L541.7,999.2L543.7,1002.4L545.7,1005.6L547.8,1008.8L549.8,1012.1L551.8,1015.3L553.8,1018.5L555.8,1021.6L557.8,1024.8L559.8,1027.9L561.9,1031L563.9,1034L565.9,1037L567.9,1039.9L569.9,1042.7L571.9,1045.5L573.9,1048.2L575.9,1050.8L578,1053.2L580,1055.6L582,1057.9L584,1060L586,1062.1L588,1063.9L590,1065.7L592,1067.3L594.1,1068.7L596.1,1070L598.1,1071.1L600.1,1072" stroke="#ff00ff" stroke-width="5.6" fill="none" stroke-linejoin="round" stroke-linecap="butt"/>
<path d="M400.8,1068.5L402.8,1067.3L404.8,1066L406.8,1064.6L408.8,1063.2L410.8,1061.7L412.8,1060.2L414.8,1058.6L416.8,1056.9L418.8,1055.3L420.8,1053.6L422.8,1051.8L424.8,1050.1L426.8,1048.3L428.8,1046.5L430.8,1044.7L432.8,1042.8L434.8,1041L436.8,1039.2L438.8,1037.3L440.9,1035.5L442.9,1033.6L444.9,1031.8L446.9,1029.9L448.9,1028.1L450.9,1026.3L452.9,1024.4L454.9,1022.6L456.9,1020.8L458.9,1019L460.9,1017.1L462.9,1015.3L464.9,1013.5L466.9,1011.7L468.9,1009.9L470.9,1008L472.9,1006.2L474.9,1004.4L476.9,1002.5L478.9,1000.6L480.9,998.8L482.9,996.8L484.9,994.9L486.9,992.9L488.9,990.9L490.9,988.9L492.9,986.8L494.9,984.6L496.9,982.4L498.9,980.2L500.9,977.8L502.9,975.4L504.9,972.9L506.9,970.4L508.9,967.7L510.9,964.9L512.9,962L514.9,959L516.9,955.9L518.9,952.6L521,949.2L523,945.6L525,941.9L527,938L529,933.9L531,929.6L533,925.2L535,920.5L537,915.6L539,910.4L541,905L543,899.4L545,893.4L547,887.2L549,880.7L551,873.9L553,866.8L555,859.3L557,851.5L559,843.3L600.1,843.3L600.1,1030.6" stroke="#00ff00" stroke-width="5.6" fill="none" stroke-linejoin="round" stroke-linecap="butt"/>
<path d="M121.2,843.3 L200.8,1030.6 L320.5,1030.6 L320.5,1126" stroke="#000000" stroke-width="5.2" fill="none" stroke-linejoin="round" stroke-linecap="butt"/>
<path d="M400.8,1126 L400.8,843.3 L480.4,1030.6 L600.1,1030.6 L600.1,1126" stroke="#000000" stroke-width="5.2" fill="none" stroke-linejoin="round" stroke-linecap="butt"/>
<text x="55.2" y="825" style="font-family:Liberation Sans,sans-serif;font-weight:bold;font-size:44px">E</text>
</g>
<g fill="#ff00ff"><text transform="translate(973.8,793.8) scale(0.783,1)" style="font-family:'Liberation Serif',serif;font-weight:bold;font-style:italic;font-size:28.6px">N</text><text transform="translate(992.3,799.1) scale(1.058,1)" style="font-family:'Liberation Serif',serif;font-weight:bold;font-style:italic;font-size:20px">b</text><rect x="1012.4" y="782.3" width="16.8" height="2.3"/><rect x="1012.4" y="788.1" width="16.8" height="2.3"/><text transform="translate(1038.5,793.8) scale(1.130,1)" style="font-family:'Liberation Serif',serif;font-weight:bold;font-style:normal;font-size:28.6px">0</text><text transform="translate(1055.4,793.8) scale(1.130,1)" style="font-family:'Liberation Serif',serif;font-weight:normal;font-style:normal;font-size:28.6px">.</text><text transform="translate(1066.7,793.8) scale(1.130,1)" style="font-family:'Liberation Serif',serif;font-weight:bold;font-style:normal;font-size:28.6px">3</text><text transform="translate(1083.6,793.8) scale(1.130,1)" style="font-family:'Liberation Serif',serif;font-weight:bold;font-style:normal;font-size:28.6px">0</text></g>
<g fill="#0000ff"><text transform="translate(917.4,833.2) scale(0.980,1)" style="font-family:'Liberation Serif',serif;font-weight:bold;font-style:italic;font-size:28.6px">ε</text><rect x="938.9" y="821.7" width="16.8" height="2.3"/><rect x="938.9" y="827.5" width="16.8" height="2.3"/><text transform="translate(964.8,833.2) scale(1.130,1)" style="font-family:'Liberation Serif',serif;font-weight:bold;font-style:normal;font-size:28.6px">2</text><text transform="translate(981,833.2) scale(1.130,1)" style="font-family:'Liberation Serif',serif;font-weight:normal;font-style:normal;font-size:28.6px">.</text><text transform="translate(991.8,833.2) scale(1.130,1)" style="font-family:'Liberation Serif',serif;font-weight:bold;font-style:normal;font-size:28.6px">4</text><text transform="translate(1008,833.2) scale(1.130,1)" style="font-family:'Liberation Serif',serif;font-weight:bold;font-style:normal;font-size:28.6px">0</text></g>
<g fill="#000000"><text transform="translate(901.3,874.3) scale(0.915,1)" style="font-family:'Liberation Serif',serif;font-weight:bold;font-style:italic;font-size:28.6px">β</text><text transform="translate(916.6,870.1) scale(1.000,1)" style="font-family:'Liberation Serif',serif;font-weight:normal;font-style:normal;font-size:20.6px">*</text><rect x="936.2" y="862.8" width="16.8" height="2.3"/><rect x="936.2" y="868.6" width="16.8" height="2.3"/><text transform="translate(962.2,874.3) scale(1.130,1)" style="font-family:'Liberation Serif',serif;font-weight:bold;font-style:normal;font-size:28.6px">0</text><text transform="translate(978.8,874.3) scale(1.130,1)" style="font-family:'Liberation Serif',serif;font-weight:normal;font-style:normal;font-size:28.6px">.</text><text transform="translate(989.8,874.3) scale(1.130,1)" style="font-family:'Liberation Serif',serif;font-weight:bold;font-style:normal;font-size:28.6px">7</text><text transform="translate(1006.4,874.3) scale(1.130,1)" style="font-family:'Liberation Serif',serif;font-weight:bold;font-style:normal;font-size:28.6px">5</text></g>
<g fill="#66ff33"><text transform="translate(885.4,1063.1) scale(0.865,1)" style="font-family:'Liberation Serif',serif;font-weight:normal;font-style:normal;font-size:28.6px">Δ</text><text transform="translate(900.6,1063.1) scale(0.993,1)" style="font-family:'Liberation Serif',serif;font-weight:bold;font-style:italic;font-size:28.6px">Q</text><rect x="930.5" y="1051.6" width="16.8" height="2.3"/><rect x="930.5" y="1057.4" width="16.8" height="2.3"/><text transform="translate(956.6,1063.1) scale(1.130,1)" style="font-family:'Liberation Serif',serif;font-weight:bold;font-style:normal;font-size:28.6px">0</text><text transform="translate(972.5,1063.1) scale(1.130,1)" style="font-family:'Liberation Serif',serif;font-weight:normal;font-style:normal;font-size:28.6px">.</text><text transform="translate(982.9,1063.1) scale(1.130,1)" style="font-family:'Liberation Serif',serif;font-weight:bold;font-style:normal;font-size:28.6px">0</text><text transform="translate(998.8,1063.1) scale(1.130,1)" style="font-family:'Liberation Serif',serif;font-weight:bold;font-style:normal;font-size:28.6px">0</text><text transform="translate(1014.7,1063.1) scale(1.130,1)" style="font-family:'Liberation Serif',serif;font-weight:bold;font-style:normal;font-size:28.6px">3</text></g>
<g fill="#ff0000"><text transform="translate(922.5,1092.3) scale(0.802,1)" style="font-family:'Liberation Serif',serif;font-weight:bold;font-style:italic;font-size:28.6px" stroke="#ff0000" stroke-width="0.5">L</text><rect x="945.6" y="1080.8" width="16.8" height="2.3"/><rect x="945.6" y="1086.6" width="16.8" height="2.3"/><text transform="translate(971.7,1092.3) scale(1.130,1)" style="font-family:'Liberation Serif',serif;font-weight:bold;font-style:normal;font-size:28.6px">0</text><text transform="translate(987.5,1092.3) scale(1.130,1)" style="font-family:'Liberation Serif',serif;font-weight:normal;font-style:normal;font-size:28.6px">.</text><text transform="translate(997.8,1092.3) scale(1.130,1)" style="font-family:'Liberation Serif',serif;font-weight:bold;font-style:normal;font-size:28.6px">2</text><text transform="translate(1013.5,1092.3) scale(1.130,1)" style="font-family:'Liberation Serif',serif;font-weight:bold;font-style:normal;font-size:28.6px">4</text></g>
<g fill="#ff0000"><text transform="translate(1107.7,825.4) scale(0.802,1)" style="font-family:'Liberation Serif',serif;font-weight:bold;font-style:italic;font-size:28.6px" stroke="#ff0000" stroke-width="0.5">L</text><rect x="1130.8" y="813.9" width="16.8" height="2.3"/><rect x="1130.8" y="819.7" width="16.8" height="2.3"/><text transform="translate(1155.5,825.4) scale(1.130,1)" style="font-family:'Liberation Serif',serif;font-weight:bold;font-style:normal;font-size:28.6px">1</text><text transform="translate(1171.9,825.4) scale(1.130,1)" style="font-family:'Liberation Serif',serif;font-weight:normal;font-style:normal;font-size:28.6px">.</text><text transform="translate(1182.8,825.4) scale(1.130,1)" style="font-family:'Liberation Serif',serif;font-weight:bold;font-style:normal;font-size:28.6px">9</text><text transform="translate(1199.2,825.4) scale(1.130,1)" style="font-family:'Liberation Serif',serif;font-weight:bold;font-style:normal;font-size:28.6px">1</text></g>
<g fill="#66ff33"><text transform="translate(1241.6,826.4) scale(0.865,1)" style="font-family:'Liberation Serif',serif;font-weight:normal;font-style:normal;font-size:28.6px">Δ</text><text transform="translate(1256.8,826.4) scale(0.993,1)" style="font-family:'Liberation Serif',serif;font-weight:bold;font-style:italic;font-size:28.6px">Q</text><rect x="1286.7" y="814.9" width="16.8" height="2.3"/><rect x="1286.7" y="820.7" width="16.8" height="2.3"/><text transform="translate(1312.8,826.4) scale(1.130,1)" style="font-family:'Liberation Serif',serif;font-weight:bold;font-style:normal;font-size:28.6px">0</text><text transform="translate(1328.8,826.4) scale(1.130,1)" style="font-family:'Liberation Serif',serif;font-weight:normal;font-style:normal;font-size:28.6px">.</text><text transform="translate(1339.4,826.4) scale(1.130,1)" style="font-family:'Liberation Serif',serif;font-weight:bold;font-style:normal;font-size:28.6px">0</text><text transform="translate(1355.5,826.4) scale(1.130,1)" style="font-family:'Liberation Serif',serif;font-weight:bold;font-style:normal;font-size:28.6px">2</text><text transform="translate(1371.6,826.4) scale(1.130,1)" style="font-family:'Liberation Serif',serif;font-weight:bold;font-style:normal;font-size:28.6px">1</text></g>
<g fill="#ff0000"><text transform="translate(1257.9,969.8) scale(0.802,1)" style="font-family:'Liberation Serif',serif;font-weight:bold;font-style:italic;font-size:28.6px" stroke="#ff0000" stroke-width="0.5">L</text><rect x="1281" y="958.3" width="16.8" height="2.3"/><rect x="1281" y="964.1" width="16.8" height="2.3"/><text transform="translate(1305.7,969.8) scale(1.130,1)" style="font-family:'Liberation Serif',serif;font-weight:bold;font-style:normal;font-size:28.6px">1</text><text transform="translate(1322.3,969.8) scale(1.130,1)" style="font-family:'Liberation Serif',serif;font-weight:normal;font-style:normal;font-size:28.6px">.</text><text transform="translate(1333.3,969.8) scale(1.130,1)" style="font-family:'Liberation Serif',serif;font-weight:bold;font-style:normal;font-size:28.6px">0</text><text transform="translate(1349.9,969.8) scale(1.130,1)" style="font-family:'Liberation Serif',serif;font-weight:bold;font-style:normal;font-size:28.6px">5</text></g>
<g fill="#000000"><text transform="translate(1258.5,1012.7) scale(0.915,1)" style="font-family:'Liberation Serif',serif;font-weight:bold;font-style:italic;font-size:28.6px">β</text><text transform="translate(1273.8,1008.5) scale(1.000,1)" style="font-family:'Liberation Serif',serif;font-weight:normal;font-style:normal;font-size:20.6px">*</text><rect x="1293.4" y="1001.2" width="16.8" height="2.3"/><rect x="1293.4" y="1007" width="16.8" height="2.3"/><text transform="translate(1319.4,1012.7) scale(1.130,1)" style="font-family:'Liberation Serif',serif;font-weight:bold;font-style:normal;font-size:28.6px">0</text><text transform="translate(1336,1012.7) scale(1.130,1)" style="font-family:'Liberation Serif',serif;font-weight:normal;font-style:normal;font-size:28.6px">.</text><text transform="translate(1347.1,1012.7) scale(1.130,1)" style="font-family:'Liberation Serif',serif;font-weight:bold;font-style:normal;font-size:28.6px">2</text><text transform="translate(1363.7,1012.7) scale(1.130,1)" style="font-family:'Liberation Serif',serif;font-weight:bold;font-style:normal;font-size:28.6px">5</text></g>
<g fill="#ff00ff"><text transform="translate(1256.3,1055.5) scale(0.783,1)" style="font-family:'Liberation Serif',serif;font-weight:bold;font-style:italic;font-size:28.6px">N</text><text transform="translate(1274.8,1060.8) scale(1.058,1)" style="font-family:'Liberation Serif',serif;font-weight:bold;font-style:italic;font-size:20px">b</text><rect x="1294.9" y="1044" width="16.8" height="2.3"/><rect x="1294.9" y="1049.8" width="16.8" height="2.3"/><text transform="translate(1321,1055.5) scale(1.130,1)" style="font-family:'Liberation Serif',serif;font-weight:bold;font-style:normal;font-size:28.6px">0</text><text transform="translate(1337.4,1055.5) scale(1.130,1)" style="font-family:'Liberation Serif',serif;font-weight:normal;font-style:normal;font-size:28.6px">.</text><text transform="translate(1348.4,1055.5) scale(1.130,1)" style="font-family:'Liberation Serif',serif;font-weight:bold;font-style:normal;font-size:28.6px">0</text><text transform="translate(1364.8,1055.5) scale(1.130,1)" style="font-family:'Liberation Serif',serif;font-weight:bold;font-style:normal;font-size:28.6px">6</text><text transform="translate(1381.2,1055.5) scale(1.130,1)" style="font-family:'Liberation Serif',serif;font-weight:bold;font-style:normal;font-size:28.6px">3</text></g>
<g fill="#0000ff"><text transform="translate(1258.1,1107.6) scale(0.980,1)" style="font-family:'Liberation Serif',serif;font-weight:bold;font-style:italic;font-size:28.6px">ε</text><rect x="1279.5" y="1096.1" width="16.8" height="2.3"/><rect x="1279.5" y="1101.9" width="16.8" height="2.3"/><text transform="translate(1305.6,1107.6) scale(1.130,1)" style="font-family:'Liberation Serif',serif;font-weight:bold;font-style:normal;font-size:28.6px">0</text><text transform="translate(1321.6,1107.6) scale(1.130,1)" style="font-family:'Liberation Serif',serif;font-weight:normal;font-style:normal;font-size:28.6px">.</text><text transform="translate(1332.2,1107.6) scale(1.130,1)" style="font-family:'Liberation Serif',serif;font-weight:bold;font-style:normal;font-size:28.6px">0</text><text transform="translate(1348.2,1107.6) scale(1.130,1)" style="font-family:'Liberation Serif',serif;font-weight:bold;font-style:normal;font-size:28.6px">7</text><text transform="translate(1364.2,1107.6) scale(1.130,1)" style="font-family:'Liberation Serif',serif;font-weight:bold;font-style:normal;font-size:28.6px">2</text></g>
<path d="M780.5,823.2 L780.5,1120.3 L1306.2,1120.3" stroke="#000" stroke-width="4.8" fill="none" stroke-linejoin="miter"/>
<rect x="782.9" y="1089.5" width="3.6" height="4.8" fill="#000"/>
<rect x="782.9" y="1061" width="3.6" height="4.8" fill="#000"/>
<rect x="782.9" y="1032.6" width="3.6" height="4.8" fill="#000"/>
<rect x="782.9" y="1004.2" width="3.6" height="4.8" fill="#000"/>
<rect x="782.9" y="975.8" width="3.6" height="4.8" fill="#000"/>
<rect x="782.9" y="947.3" width="3.6" height="4.8" fill="#000"/>
<rect x="782.9" y="918.9" width="3.6" height="4.8" fill="#000"/>
<rect x="782.9" y="890.5" width="3.6" height="4.8" fill="#000"/>
<rect x="782.9" y="862" width="3.6" height="4.8" fill="#000"/>
<rect x="782.9" y="833.6" width="3.6" height="4.8" fill="#000"/>
<rect x="803.1" y="1114.3" width="4.8" height="3.6" fill="#000"/>
<rect x="828" y="1114.3" width="4.8" height="3.6" fill="#000"/>
<rect x="853" y="1114.3" width="4.8" height="3.6" fill="#000"/>
<rect x="877.9" y="1114.3" width="4.8" height="3.6" fill="#000"/>
<rect x="902.9" y="1114.3" width="4.8" height="3.6" fill="#000"/>
<rect x="927.8" y="1114.3" width="4.8" height="3.6" fill="#000"/>
<rect x="952.8" y="1114.3" width="4.8" height="3.6" fill="#000"/>
<rect x="977.7" y="1114.3" width="4.8" height="3.6" fill="#000"/>
<rect x="1002.6" y="1114.3" width="4.8" height="3.6" fill="#000"/>
<rect x="1027.6" y="1114.3" width="4.8" height="3.6" fill="#000"/>
<rect x="1052.5" y="1114.3" width="4.8" height="3.6" fill="#000"/>
<rect x="1077.5" y="1114.3" width="4.8" height="3.6" fill="#000"/>
<rect x="1102.4" y="1114.3" width="4.8" height="3.6" fill="#000"/>
<rect x="1127.4" y="1114.3" width="4.8" height="3.6" fill="#000"/>
<rect x="1152.3" y="1114.3" width="4.8" height="3.6" fill="#000"/>
<rect x="1177.3" y="1114.3" width="4.8" height="3.6" fill="#000"/>
<rect x="1202.2" y="1114.3" width="4.8" height="3.6" fill="#000"/>
<rect x="1227.2" y="1114.3" width="4.8" height="3.6" fill="#000"/>
<rect x="1252.1" y="1114.3" width="4.8" height="3.6" fill="#000"/>
<rect x="1277.1" y="1114.3" width="4.8" height="3.6" fill="#000"/>
<text x="0" y="0" transform="translate(780.5,1165.6) scale(0.94,1)" text-anchor="middle" style="font-family:'Liberation Sans',sans-serif;font-size:49.7px">0</text>
<text x="0" y="0" transform="translate(905.2,1165.6) scale(0.94,1)" text-anchor="middle" style="font-family:'Liberation Sans',sans-serif;font-size:49.7px">5</text>
<path d="M1020.7,1130.8 L1020.7,1165.6 L1017.1,1165.6 L1017.1,1138.5 C1014.5,1140.5 1011,1142.3 1007.9,1143.5 L1007.9,1140.2 C1011.3,1138.5 1014.5,1135.3 1016.6,1130.8Z" fill="#000"/>
<text transform="translate(1028.1,1165.6) scale(0.94,1)" style="font-family:'Liberation Sans',sans-serif;font-size:49.7px">0</text>
<path d="M1145.5,1130.8 L1145.5,1165.6 L1141.8,1165.6 L1141.8,1138.5 C1139.2,1140.5 1135.7,1142.3 1132.6,1143.5 L1132.6,1140.2 C1136.1,1138.5 1139.2,1135.3 1141.3,1130.8Z" fill="#000"/>
<text transform="translate(1152.8,1165.6) scale(0.94,1)" style="font-family:'Liberation Sans',sans-serif;font-size:49.7px">5</text>
<text x="0" y="0" transform="translate(1279.5,1165.6) scale(0.94,1)" text-anchor="middle" style="font-family:'Liberation Sans',sans-serif;font-size:49.7px">20</text>
<text x="0" y="0" transform="translate(776.9,1137.7) scale(0.94,1)" text-anchor="end" style="font-family:'Liberation Sans',sans-serif;font-size:49.7px">0</text>
<text x="0" y="0" transform="translate(776.9,995.5) scale(0.94,1)" text-anchor="end" style="font-family:'Liberation Sans',sans-serif;font-size:49.7px">0.5</text>
<path d="M769.8,818.6 L769.8,853.4 L766.1,853.4 L766.1,826.3 C763.5,828.3 760.1,830.1 756.9,831.3 L756.9,828 C760.4,826.3 763.5,823.1 765.6,818.6Z" fill="#000"/>
<path d="M780.5,1081.7L782.5,1079.2L784.5,1076.9L786.5,1074.7L788.5,1072.5L790.5,1070.4L792.5,1068.2L794.5,1066L796.5,1063.6L798.5,1061L800.5,1058.2L802.5,1055L804.5,1051.5L806.5,1047.6L808.5,1043.2L810.5,1038.3L812.6,1032.9L814.6,1026.9L816.6,1020.5L818.6,1013.6L820.6,1006.2L822.6,998.5L824.6,990.2L826.6,981.3L828.6,971.5L830.6,960.6L832.6,948.5L834.6,935.3L836.6,921.3L838.6,907L840.6,892.8L842.6,879L844.6,876.6L846.6,874.1L848.6,871.4L850.6,868.5L852.6,865.6L854.6,862.7L856.6,859.7L858.7,856.8L860.7,854L862.7,851.3L864.7,848.7L866.7,846.4L868.7,844.3L870.7,842.5L872.7,840.9L874.7,839.6L876.7,838.6L878.7,837.7L880.7,837L882.7,836.5L884.7,836.2L886.8,836L888.8,836L890.8,836.1L892.8,836.3L894.8,836.6L896.8,837.1L898.8,837.7L900.8,838.4L902.8,839.3L904.8,840.4L906.8,841.5L908.8,842.9L910.8,844.4L912.8,846L914.9,847.8L916.9,849.7L918.9,851.7L920.9,853.9L922.9,856.2L924.9,858.6L926.9,861.1L928.9,863.8L930.9,866.5L932.9,869.3L934.9,872.3L936.9,875.3L938.9,878.3L940.9,881.5L943,884.7L945,887.9L947,891.2L949,894.6L951,898L953,901.4L955,904.9L957,908.4L959,911.9L961,915.5L963,919L965,922.7L967,926.3L969,930L971.1,933.7L973.1,937.4L975.1,941.1L977.1,944.9L979.1,948.6L981.1,952.4L983.1,956.2L985.1,960" stroke="#ff0000" stroke-width="5.6" fill="none" stroke-linejoin="round" stroke-linecap="butt"/>
<path d="M780.5,838L782.5,849.2L784.5,859.3L786.5,868.5L788.5,876.8L790.5,884.5L792.5,891.5L794.5,898.1L796.5,904.3L798.6,910.3L800.6,916.2L802.6,922.1L804.6,927.8L806.6,933.5L808.6,939L810.6,944.4L812.6,949.6L814.6,954.6L816.6,959.5L818.6,964.2L820.6,968.9L822.6,973.6L824.6,978.3L826.6,983.1L828.6,987.8L830.6,992.6L832.7,997.3L834.7,1001.9L836.7,1006.4L838.7,1010.9L840.7,1015.1L842.7,1019.2L844.7,1023.1L846.7,1026.8L848.7,1030.3L850.7,1033.6L852.7,1036.8L854.7,1039.9L856.7,1042.8L858.7,1045.6L860.7,1048.3L862.7,1050.8L864.7,1053.2L866.8,1055.6L868.8,1057.8L870.8,1059.9L872.8,1062L874.8,1063.9L876.8,1065.8L878.8,1067.6L880.8,1069.3L882.8,1070.9L884.8,1072.5L886.8,1074L888.8,1075.4L890.8,1076.8L892.8,1078.2L894.8,1079.5L896.8,1080.7L898.8,1081.9L900.9,1083L902.9,1084.1L904.9,1085.2L906.9,1086.2L908.9,1087.2L910.9,1088.2L912.9,1089.2L914.9,1090.1L916.9,1091L918.9,1091.9L920.9,1092.8L922.9,1093.6L924.9,1094.4L926.9,1095.2L928.9,1096L930.9,1096.7L932.9,1097.5L935,1098.2L937,1098.9L939,1099.5L941,1100.2L943,1100.8L945,1101.4L947,1102L949,1102.6L951,1103.1L953,1103.6L955,1104.2L957,1104.7L959,1105.1L961,1105.6L963,1106.1L965,1106.5L967,1106.9L969.1,1107.3L971.1,1107.7L973.1,1108.1L975.1,1108.4L977.1,1108.8L979.1,1109.1L981.1,1109.4L983.1,1109.7L985.1,1110" stroke="#0000ff" stroke-width="5.6" fill="none" stroke-linejoin="round" stroke-linecap="butt"/>
<path d="M780.5,836L782.5,836.4L784.5,836.8L786.5,837.2L788.5,837.6L790.5,838L792.5,838.4L794.5,838.9L796.5,839.5L798.6,840L800.6,840.7L802.6,841.4L804.6,842.1L806.6,843L808.6,843.9L810.6,844.9L812.6,846L814.6,847.1L816.6,848.4L818.6,849.8L820.6,851.4L822.6,853L824.6,854.8L826.6,856.7L828.6,858.7L830.6,860.9L832.7,863.1L834.7,865.4L836.7,867.8L838.7,870.2L840.7,872.6L842.7,875.1L844.7,877.6L846.7,880.1L848.7,882.6L850.7,885.1L852.7,887.6L854.7,890.2L856.7,892.8L858.7,895.4L860.7,898L862.7,900.7L864.7,903.4L866.8,906.2L868.8,909L870.8,911.9L872.8,914.8L874.8,917.8L876.8,920.7L878.8,923.8L880.8,926.8L882.8,929.9L884.8,932.9L886.8,936L888.8,939L890.8,942L892.8,945L894.8,948L896.8,951L898.8,953.9L900.9,956.8L902.9,959.7L904.9,962.5L906.9,965.3L908.9,968.1L910.9,970.8L912.9,973.6L914.9,976.2L916.9,978.9L918.9,981.5L920.9,984.2L922.9,986.7L924.9,989.3L926.9,991.8L928.9,994.4L930.9,996.9L932.9,999.3L935,1001.8L937,1004.3L939,1006.8L941,1009.2L943,1011.7L945,1014.1L947,1016.6L949,1019L951,1021.5L953,1024L955,1026.4L957,1028.9L959,1031.3L961,1033.7L963,1036.1L965,1038.5L967,1040.9L969.1,1043.2L971.1,1045.5L973.1,1047.8L975.1,1050L977.1,1052.2L979.1,1054.3L981.1,1056.4L983.1,1058.5L985.1,1060.5" stroke="#ff00ff" stroke-width="5.6" fill="none" stroke-linejoin="round" stroke-linecap="butt"/>
<path d="M780.5,1076.8L782.5,1075.9L784.5,1074.9L786.5,1073.8L788.5,1072.6L790.5,1071.3L792.5,1070L794.5,1068.6L796.5,1067.2L798.6,1065.6L800.6,1064L802.6,1062.3L804.6,1060.6L806.6,1058.8L808.6,1057L810.6,1055.1L812.6,1053.1L814.6,1051.1L816.6,1049.1L818.6,1047L820.6,1044.9L822.6,1042.7L824.6,1040.5L826.6,1038.2L828.6,1035.9L830.6,1033.6L832.7,1031.2L834.7,1028.8L836.7,1026.4L838.7,1023.9L840.7,1021.5L842.7,1019L844.7,1016.4L846.7,1013.9L848.7,1011.3L850.7,1008.7L852.7,1006.1L854.7,1003.5L856.7,1000.9L858.7,998.2L860.7,995.6L862.7,992.9L864.7,990.2L866.8,987.5L868.8,984.8L870.8,982.1L872.8,979.4L874.8,976.7L876.8,974L878.8,971.2L880.8,968.5L882.8,965.8L884.8,963.1L886.8,960.3L888.8,957.6L890.8,954.9L892.8,952.2L894.8,949.5L896.8,946.8L898.8,944.1L900.9,941.4L902.9,938.7L904.9,936L906.9,933.3L908.9,930.6L910.9,927.9L912.9,925.3L914.9,922.6L916.9,920L918.9,917.3L920.9,914.7L922.9,912.1L924.9,909.5L926.9,906.8L928.9,904.2L930.9,901.7L932.9,899.1L935,896.5L937,893.9L939,891.4L941,888.8L943,886.3L945,883.7L947,881.2L949,878.7L951,876.1L953,873.6L955,871.1L957,868.6L959,866.1L961,863.6L963,861.1L965,858.6L967,856.1L969.1,853.6L971.1,851.1L973.1,848.6L975.1,846.1L977.1,843.6L979.1,841.1L981.1,838.6L983.1,836L985.1,833.5L985.1,1024" stroke="#00ff00" stroke-width="5.6" fill="none" stroke-linejoin="round" stroke-linecap="butt"/>
<path d="M1046.1,1081.7L1048.1,1079.2L1050.1,1076.9L1052.1,1074.7L1054.1,1072.5L1056.1,1070.4L1058.1,1068.2L1060.1,1066L1062.1,1063.6L1064.1,1061L1066.1,1058.2L1068.1,1055L1070.1,1051.5L1072.1,1047.6L1074.1,1043.2L1076.1,1038.3L1078.2,1032.9L1080.2,1026.9L1082.2,1020.5L1084.2,1013.6L1086.2,1006.2L1088.2,998.5L1090.2,990.2L1092.2,981.3L1094.2,971.5L1096.2,960.6L1098.2,948.5L1100.2,935.3L1102.2,921.3L1104.2,907L1106.2,892.8L1108.2,879L1110.2,876.6L1112.2,874.1L1114.2,871.4L1116.2,868.5L1118.2,865.6L1120.2,862.7L1122.2,859.7L1124.3,856.8L1126.3,854L1128.3,851.3L1130.3,848.7L1132.3,846.4L1134.3,844.3L1136.3,842.5L1138.3,840.9L1140.3,839.6L1142.3,838.6L1144.3,837.7L1146.3,837L1148.3,836.5L1150.3,836.2L1152.4,836L1154.4,836L1156.4,836.1L1158.4,836.3L1160.4,836.6L1162.4,837.1L1164.4,837.7L1166.4,838.4L1168.4,839.3L1170.4,840.4L1172.4,841.5L1174.4,842.9L1176.4,844.4L1178.4,846L1180.5,847.8L1182.5,849.7L1184.5,851.7L1186.5,853.9L1188.5,856.2L1190.5,858.6L1192.5,861.1L1194.5,863.8L1196.5,866.5L1198.5,869.3L1200.5,872.3L1202.5,875.3L1204.5,878.3L1206.5,881.5L1208.6,884.7L1210.6,887.9L1212.6,891.2L1214.6,894.6L1216.6,898L1218.6,901.4L1220.6,904.9L1222.6,908.4L1224.6,911.9L1226.6,915.5L1228.6,919L1230.6,922.7L1232.6,926.3L1234.6,930L1236.7,933.7L1238.7,937.4L1240.7,941.1L1242.7,944.9L1244.7,948.6L1246.7,952.4L1248.7,956.2L1250.7,960" stroke="#ff0000" stroke-width="5.6" fill="none" stroke-linejoin="round" stroke-linecap="butt"/>
<path d="M1046.1,838L1048.1,849.2L1050.1,859.3L1052.1,868.5L1054.1,876.8L1056.1,884.5L1058.1,891.5L1060.1,898.1L1062.1,904.3L1064.2,910.3L1066.2,916.2L1068.2,922.1L1070.2,927.8L1072.2,933.5L1074.2,939L1076.2,944.4L1078.2,949.6L1080.2,954.6L1082.2,959.5L1084.2,964.2L1086.2,968.9L1088.2,973.6L1090.2,978.3L1092.2,983.1L1094.2,987.8L1096.2,992.6L1098.3,997.3L1100.3,1001.9L1102.3,1006.4L1104.3,1010.9L1106.3,1015.1L1108.3,1019.2L1110.3,1023.1L1112.3,1026.8L1114.3,1030.3L1116.3,1033.6L1118.3,1036.8L1120.3,1039.9L1122.3,1042.8L1124.3,1045.6L1126.3,1048.3L1128.3,1050.8L1130.3,1053.2L1132.4,1055.6L1134.4,1057.8L1136.4,1059.9L1138.4,1062L1140.4,1063.9L1142.4,1065.8L1144.4,1067.6L1146.4,1069.3L1148.4,1070.9L1150.4,1072.5L1152.4,1074L1154.4,1075.4L1156.4,1076.8L1158.4,1078.2L1160.4,1079.5L1162.4,1080.7L1164.4,1081.9L1166.5,1083L1168.5,1084.1L1170.5,1085.2L1172.5,1086.2L1174.5,1087.2L1176.5,1088.2L1178.5,1089.2L1180.5,1090.1L1182.5,1091L1184.5,1091.9L1186.5,1092.8L1188.5,1093.6L1190.5,1094.4L1192.5,1095.2L1194.5,1096L1196.5,1096.7L1198.5,1097.5L1200.6,1098.2L1202.6,1098.9L1204.6,1099.5L1206.6,1100.2L1208.6,1100.8L1210.6,1101.4L1212.6,1102L1214.6,1102.6L1216.6,1103.1L1218.6,1103.6L1220.6,1104.2L1222.6,1104.7L1224.6,1105.1L1226.6,1105.6L1228.6,1106.1L1230.6,1106.5L1232.6,1106.9L1234.7,1107.3L1236.7,1107.7L1238.7,1108.1L1240.7,1108.4L1242.7,1108.8L1244.7,1109.1L1246.7,1109.4L1248.7,1109.7L1250.7,1110" stroke="#0000ff" stroke-width="5.6" fill="none" stroke-linejoin="round" stroke-linecap="butt"/>
<path d="M1046.1,836L1048.1,836.4L1050.1,836.8L1052.1,837.2L1054.1,837.6L1056.1,838L1058.1,838.4L1060.1,838.9L1062.1,839.5L1064.2,840L1066.2,840.7L1068.2,841.4L1070.2,842.1L1072.2,843L1074.2,843.9L1076.2,844.9L1078.2,846L1080.2,847.1L1082.2,848.4L1084.2,849.8L1086.2,851.4L1088.2,853L1090.2,854.8L1092.2,856.7L1094.2,858.7L1096.2,860.9L1098.3,863.1L1100.3,865.4L1102.3,867.8L1104.3,870.2L1106.3,872.6L1108.3,875.1L1110.3,877.6L1112.3,880.1L1114.3,882.6L1116.3,885.1L1118.3,887.6L1120.3,890.2L1122.3,892.8L1124.3,895.4L1126.3,898L1128.3,900.7L1130.3,903.4L1132.4,906.2L1134.4,909L1136.4,911.9L1138.4,914.8L1140.4,917.8L1142.4,920.7L1144.4,923.8L1146.4,926.8L1148.4,929.9L1150.4,932.9L1152.4,936L1154.4,939L1156.4,942L1158.4,945L1160.4,948L1162.4,951L1164.4,953.9L1166.5,956.8L1168.5,959.7L1170.5,962.5L1172.5,965.3L1174.5,968.1L1176.5,970.8L1178.5,973.6L1180.5,976.2L1182.5,978.9L1184.5,981.5L1186.5,984.2L1188.5,986.7L1190.5,989.3L1192.5,991.8L1194.5,994.4L1196.5,996.9L1198.5,999.3L1200.6,1001.8L1202.6,1004.3L1204.6,1006.8L1206.6,1009.2L1208.6,1011.7L1210.6,1014.1L1212.6,1016.6L1214.6,1019L1216.6,1021.5L1218.6,1024L1220.6,1026.4L1222.6,1028.9L1224.6,1031.3L1226.6,1033.7L1228.6,1036.1L1230.6,1038.5L1232.6,1040.9L1234.7,1043.2L1236.7,1045.5L1238.7,1047.8L1240.7,1050L1242.7,1052.2L1244.7,1054.3L1246.7,1056.4L1248.7,1058.5L1250.7,1060.5" stroke="#ff00ff" stroke-width="5.6" fill="none" stroke-linejoin="round" stroke-linecap="butt"/>
<path d="M1046.1,1076.8L1048.1,1075.9L1050.1,1074.9L1052.1,1073.8L1054.1,1072.6L1056.1,1071.3L1058.1,1070L1060.1,1068.6L1062.1,1067.2L1064.2,1065.6L1066.2,1064L1068.2,1062.3L1070.2,1060.6L1072.2,1058.8L1074.2,1057L1076.2,1055.1L1078.2,1053.1L1080.2,1051.1L1082.2,1049.1L1084.2,1047L1086.2,1044.9L1088.2,1042.7L1090.2,1040.5L1092.2,1038.2L1094.2,1035.9L1096.2,1033.6L1098.3,1031.2L1100.3,1028.8L1102.3,1026.4L1104.3,1023.9L1106.3,1021.5L1108.3,1019L1110.3,1016.4L1112.3,1013.9L1114.3,1011.3L1116.3,1008.7L1118.3,1006.1L1120.3,1003.5L1122.3,1000.9L1124.3,998.2L1126.3,995.6L1128.3,992.9L1130.3,990.2L1132.4,987.5L1134.4,984.8L1136.4,982.1L1138.4,979.4L1140.4,976.7L1142.4,974L1144.4,971.2L1146.4,968.5L1148.4,965.8L1150.4,963.1L1152.4,960.3L1154.4,957.6L1156.4,954.9L1158.4,952.2L1160.4,949.5L1162.4,946.8L1164.4,944.1L1166.5,941.4L1168.5,938.7L1170.5,936L1172.5,933.3L1174.5,930.6L1176.5,927.9L1178.5,925.3L1180.5,922.6L1182.5,920L1184.5,917.3L1186.5,914.7L1188.5,912.1L1190.5,909.5L1192.5,906.8L1194.5,904.2L1196.5,901.7L1198.5,899.1L1200.6,896.5L1202.6,893.9L1204.6,891.4L1206.6,888.8L1208.6,886.3L1210.6,883.7L1212.6,881.2L1214.6,878.7L1216.6,876.1L1218.6,873.6L1220.6,871.1L1222.6,868.6L1224.6,866.1L1226.6,863.6L1228.6,861.1L1230.6,858.6L1232.6,856.1L1234.7,853.6L1236.7,851.1L1238.7,848.6L1240.7,846.1L1242.7,843.6L1244.7,841.1L1246.7,838.6L1248.7,836L1250.7,833.5L1250.7,1024" stroke="#00ff00" stroke-width="5.6" fill="none" stroke-linejoin="round" stroke-linecap="butt"/>
<path d="M780.5,836 L841.4,1024 L985.1,1024 L985.1,1120.3" stroke="#000000" stroke-width="5.2" fill="none" stroke-linejoin="round" stroke-linecap="butt"/>
<path d="M1046.1,1120.3 L1046.1,836 L1107,1024 L1250.7,1024 L1250.7,1120.3" stroke="#000000" stroke-width="5.2" fill="none" stroke-linejoin="round" stroke-linecap="butt"/>
<text x="709.3" y="825" style="font-family:Liberation Sans,sans-serif;font-weight:bold;font-size:44px">F</text>
<text transform="translate(46.7,796.8) rotate(-90)" style="font-family:Liberation Sans,sans-serif;font-weight:bold;font-size:58.2px">Relative parameters</text>
<text x="626" y="1228" style="font-family:Liberation Sans,sans-serif;font-weight:bold;font-size:48.5px">Time [h]</text>
</svg></body></html>
